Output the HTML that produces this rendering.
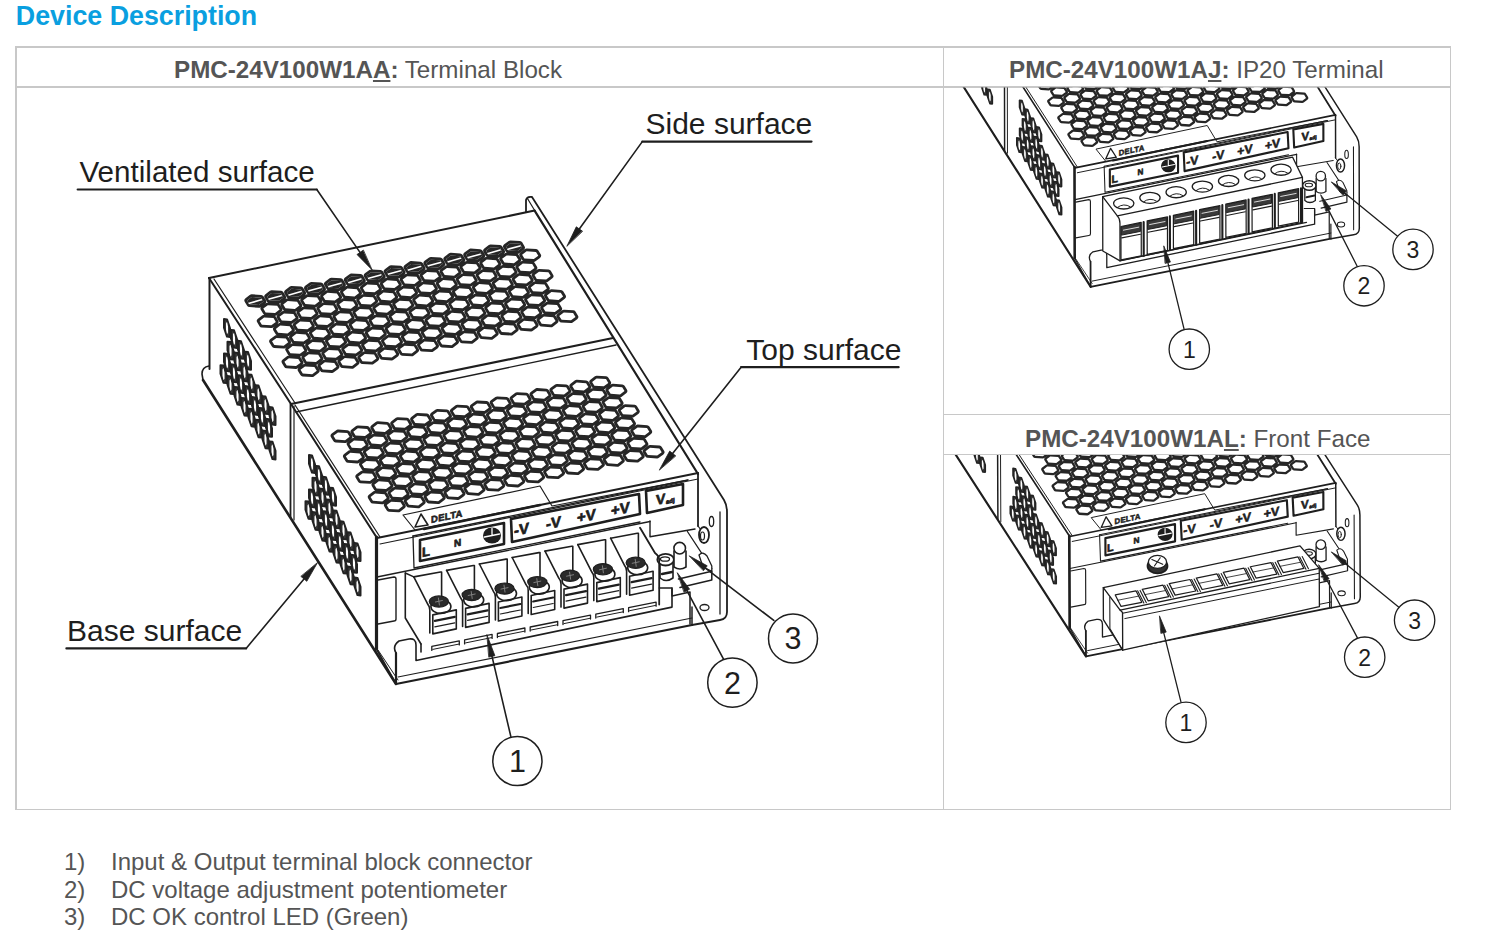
<!DOCTYPE html>
<html><head><meta charset="utf-8">
<style>
html,body{margin:0;padding:0;background:#fff;}
body{width:1499px;height:936px;position:relative;overflow:hidden;font-family:"Liberation Sans",sans-serif;}
.t{position:absolute;white-space:nowrap;line-height:1;}
.title{left:15.8px;top:3.2px;font-size:26.8px;font-weight:bold;color:#0a9fe0;}
.hd{font-size:24.2px;color:#555;}
.hd b{font-weight:bold;}
.hd u{text-decoration:underline;text-decoration-thickness:2.4px;text-underline-offset:2.4px;}
.ln{position:absolute;background:#c8c8c8;}
.li{font-size:24px;color:#555;}
svg{position:absolute;left:0;top:0;}
</style></head><body>
<div class="t title">Device Description</div>
<div class="ln" style="left:15px;top:46px;width:1436px;height:1.5px"></div>
<div class="ln" style="left:15px;top:808.5px;width:1436px;height:1.5px"></div>
<div class="ln" style="left:15px;top:46px;width:1.5px;height:764px"></div>
<div class="ln" style="left:942.5px;top:46px;width:1.5px;height:764px"></div>
<div class="ln" style="left:1449.5px;top:46px;width:1.5px;height:764px"></div>
<div class="ln" style="left:15px;top:86px;width:1436px;height:1.5px"></div>
<div class="ln" style="left:943px;top:413.5px;width:508px;height:1.5px"></div>
<div class="ln" style="left:943px;top:453.5px;width:508px;height:1.5px"></div>
<div class="t hd" style="left:174px;top:58px"><b>PMC-24V100W1A<u>A</u>:</b> Terminal Block</div>
<div class="t hd" style="left:1009px;top:58px"><b>PMC-24V100W1A<u>J</u>:</b> IP20 Terminal</div>
<div class="t hd" style="left:1025px;top:427px"><b>PMC-24V100W1A<u>L</u>:</b> Front Face</div>
<div class="t li" style="left:64px;top:850px">1)</div>
<div class="t li" style="left:111px;top:850px">Input &amp; Output terminal block connector</div>
<div class="t li" style="left:64px;top:878px">2)</div>
<div class="t li" style="left:111px;top:878px">DC voltage adjustment potentiometer</div>
<div class="t li" style="left:64px;top:904.5px">3)</div>
<div class="t li" style="left:111px;top:904.5px">DC OK control LED (Green)</div>
<svg width="1499" height="936" viewBox="0 0 1499 936" stroke="#1e1e1e" stroke-linejoin="round" stroke-linecap="round">
<defs><g id="common"><path d="M263.4,301.5 L258.9,304.9 L249.5,304.3 L247.2,300.5 L251.7,297.1 L261.1,297.7ZM283.3,297.4 L278.8,300.8 L269.4,300.2 L267.1,296.4 L271.6,293 L281,293.6ZM303.2,293.2 L298.7,296.6 L289.3,296 L287,292.2 L291.5,288.8 L300.9,289.4ZM323.1,289.1 L318.6,292.4 L309.2,291.9 L306.9,288.1 L311.4,284.7 L320.8,285.2ZM343,284.9 L338.5,288.3 L329.1,287.7 L326.8,283.9 L331.3,280.5 L340.7,281.1ZM362.9,280.8 L358.4,284.1 L349,283.6 L346.7,279.8 L351.2,276.4 L360.6,276.9ZM382.8,276.6 L378.3,280 L368.9,279.4 L366.6,275.6 L371.1,272.2 L380.5,272.8ZM402.7,272.4 L398.2,275.8 L388.8,275.2 L386.5,271.4 L391,268.1 L400.4,268.6ZM422.6,268.3 L418.1,271.7 L408.7,271.1 L406.4,267.3 L410.9,263.9 L420.3,264.5ZM442.5,264.1 L438,267.5 L428.6,266.9 L426.3,263.1 L430.8,259.8 L440.2,260.3ZM462.4,260 L457.9,263.4 L448.5,262.8 L446.2,259 L450.7,255.6 L460.1,256.2ZM482.3,255.8 L477.8,259.2 L468.4,258.6 L466.1,254.8 L470.6,251.4 L480,252ZM502.2,251.7 L497.7,255.1 L488.3,254.5 L486,250.7 L490.5,247.3 L499.9,247.9ZM522.1,247.6 L517.6,251 L508.2,250.4 L505.9,246.6 L510.4,243.2 L519.8,243.8ZM279.6,309.6 L275.1,313 L265.6,312.4 L263.3,308.6 L267.8,305.2 L277.2,305.8ZM299.4,305.5 L294.9,308.9 L285.5,308.3 L283.2,304.5 L287.7,301.1 L297.1,301.7ZM319.4,301.3 L314.9,304.7 L305.4,304.1 L303.1,300.3 L307.6,296.9 L317.1,297.5ZM339.2,297.2 L334.8,300.6 L325.3,300 L323,296.2 L327.5,292.8 L336.9,293.4ZM359.1,293 L354.6,296.4 L345.2,295.8 L342.9,292 L347.4,288.6 L356.8,289.2ZM379.1,288.9 L374.6,292.3 L365.1,291.7 L362.8,287.9 L367.3,284.5 L376.8,285.1ZM398.9,284.7 L394.4,288.1 L385,287.5 L382.7,283.7 L387.2,280.3 L396.6,280.9ZM418.9,280.6 L414.4,284 L404.9,283.4 L402.6,279.6 L407.1,276.2 L416.6,276.8ZM438.8,276.4 L434.2,279.8 L424.8,279.2 L422.5,275.4 L427,272 L436.4,272.6ZM458.6,272.3 L454.1,275.7 L444.7,275.1 L442.4,271.3 L446.9,267.9 L456.3,268.5ZM478.6,268.1 L474.1,271.5 L464.6,270.9 L462.3,267.1 L466.8,263.7 L476.2,264.3ZM498.4,264 L493.9,267.4 L484.5,266.8 L482.2,263 L486.7,259.6 L496.1,260.2ZM518.4,259.8 L513.9,263.2 L504.4,262.6 L502.1,258.8 L506.6,255.4 L516,256ZM538.3,255.7 L533.8,259.1 L524.4,258.5 L522.1,254.7 L526.6,251.3 L536,251.9ZM275.8,321.9 L271.3,325.3 L261.9,324.7 L259.6,320.9 L264.1,317.5 L273.5,318.1ZM295.7,317.8 L291.2,321.1 L281.8,320.6 L279.5,316.8 L284,313.4 L293.4,313.9ZM315.6,313.6 L311.1,317 L301.7,316.4 L299.4,312.6 L303.9,309.2 L313.3,309.8ZM335.5,309.4 L331,312.8 L321.6,312.2 L319.3,308.4 L323.8,305.1 L333.2,305.6ZM355.4,305.3 L350.9,308.7 L341.5,308.1 L339.2,304.3 L343.7,300.9 L353.1,301.5ZM375.3,301.1 L370.8,304.5 L361.4,303.9 L359.1,300.1 L363.6,296.8 L373,297.3ZM395.2,297 L390.7,300.4 L381.3,299.8 L379,296 L383.5,292.6 L392.9,293.2ZM415.1,292.8 L410.6,296.2 L401.2,295.6 L398.9,291.8 L403.4,288.4 L412.8,289ZM435,288.7 L430.5,292.1 L421.1,291.5 L418.8,287.7 L423.3,284.3 L432.7,284.9ZM454.9,284.5 L450.4,287.9 L441,287.3 L438.7,283.5 L443.2,280.1 L452.6,280.7ZM474.8,280.4 L470.3,283.8 L460.9,283.2 L458.6,279.4 L463.1,276 L472.5,276.6ZM494.7,276.2 L490.2,279.6 L480.8,279.1 L478.5,275.2 L483,271.9 L492.4,272.4ZM514.6,272.1 L510.1,275.5 L500.7,274.9 L498.4,271.1 L502.9,267.7 L512.3,268.3ZM534.5,267.9 L530,271.3 L520.6,270.8 L518.3,266.9 L522.8,263.6 L532.2,264.1ZM292,330 L287.5,333.4 L278.1,332.8 L275.8,329 L280.2,325.6 L289.7,326.2ZM311.9,325.9 L307.4,329.3 L297.9,328.7 L295.6,324.9 L300.1,321.5 L309.6,322.1ZM331.8,321.7 L327.3,325.1 L317.9,324.5 L315.6,320.7 L320.1,317.3 L329.5,317.9ZM351.7,317.6 L347.2,321 L337.8,320.4 L335.4,316.6 L339.9,313.2 L349.4,313.8ZM371.6,313.4 L367.1,316.8 L357.6,316.2 L355.3,312.4 L359.8,309 L369.2,309.6ZM391.5,309.3 L387,312.7 L377.6,312.1 L375.2,308.3 L379.8,304.9 L389.2,305.5ZM411.4,305.1 L406.9,308.5 L397.4,307.9 L395.1,304.1 L399.6,300.7 L409.1,301.3ZM431.3,301 L426.8,304.4 L417.4,303.8 L415.1,300 L419.6,296.6 L429,297.2ZM451.2,296.8 L446.7,300.2 L437.2,299.6 L434.9,295.8 L439.4,292.4 L448.9,293ZM471.1,292.7 L466.6,296.1 L457.1,295.5 L454.8,291.7 L459.3,288.3 L468.8,288.9ZM491,288.5 L486.5,291.9 L477.1,291.3 L474.8,287.5 L479.2,284.1 L488.7,284.7ZM510.9,284.4 L506.4,287.8 L496.9,287.2 L494.6,283.4 L499.1,280 L508.6,280.6ZM530.8,280.2 L526.3,283.6 L516.9,283 L514.6,279.2 L519.1,275.8 L528.5,276.4ZM550.7,276.1 L546.2,279.5 L536.8,278.9 L534.5,275.1 L539,271.7 L548.4,272.3ZM288.2,342.3 L283.7,345.7 L274.3,345.1 L272,341.3 L276.5,337.9 L285.9,338.5ZM308.1,338.2 L303.6,341.6 L294.2,341 L291.9,337.2 L296.4,333.8 L305.8,334.4ZM328,334 L323.5,337.4 L314.1,336.8 L311.8,333 L316.3,329.6 L325.7,330.2ZM347.9,329.9 L343.4,333.2 L334,332.7 L331.7,328.9 L336.2,325.5 L345.6,326.1ZM367.8,325.7 L363.3,329.1 L353.9,328.5 L351.6,324.7 L356.1,321.3 L365.5,321.9ZM387.7,321.6 L383.2,324.9 L373.8,324.4 L371.5,320.6 L376,317.2 L385.4,317.8ZM407.6,317.4 L403.1,320.8 L393.7,320.2 L391.4,316.4 L395.9,313 L405.3,313.6ZM427.5,313.2 L423,316.6 L413.6,316.1 L411.3,312.2 L415.8,308.9 L425.2,309.4ZM447.4,309.1 L442.9,312.5 L433.5,311.9 L431.2,308.1 L435.7,304.7 L445.1,305.3ZM467.3,304.9 L462.8,308.3 L453.4,307.8 L451.1,303.9 L455.6,300.6 L465,301.1ZM487.2,300.8 L482.7,304.2 L473.3,303.6 L471,299.8 L475.5,296.4 L484.9,297ZM507.1,296.6 L502.6,300 L493.2,299.4 L490.9,295.6 L495.4,292.2 L504.8,292.8ZM527,292.5 L522.5,295.9 L513.1,295.3 L510.8,291.5 L515.3,288.1 L524.7,288.7ZM546.9,288.4 L542.4,291.8 L533,291.2 L530.7,287.4 L535.2,284 L544.6,284.6ZM304.4,350.4 L299.9,353.8 L290.4,353.2 L288.1,349.4 L292.6,346 L302.1,346.6ZM324.2,346.3 L319.8,349.7 L310.3,349.1 L308,345.3 L312.5,341.9 L321.9,342.5ZM344.2,342.1 L339.7,345.5 L330.2,344.9 L327.9,341.1 L332.4,337.7 L341.9,338.3ZM364.1,338 L359.6,341.4 L350.1,340.8 L347.8,337 L352.3,333.6 L361.8,334.2ZM383.9,333.8 L379.4,337.2 L370,336.6 L367.7,332.8 L372.2,329.4 L381.6,330ZM403.9,329.7 L399.4,333.1 L389.9,332.5 L387.6,328.7 L392.1,325.3 L401.6,325.9ZM423.8,325.5 L419.2,328.9 L409.8,328.3 L407.5,324.5 L412,321.1 L421.4,321.7ZM443.7,321.4 L439.2,324.8 L429.8,324.2 L427.4,320.4 L431.9,317 L441.4,317.6ZM463.6,317.2 L459.1,320.6 L449.6,320 L447.3,316.2 L451.8,312.8 L461.2,313.4ZM483.4,313.1 L478.9,316.5 L469.5,315.9 L467.2,312.1 L471.7,308.7 L481.1,309.3ZM503.4,308.9 L498.9,312.3 L489.4,311.7 L487.1,307.9 L491.6,304.5 L501.1,305.1ZM523.2,304.8 L518.8,308.2 L509.3,307.6 L507,303.8 L511.5,300.4 L520.9,301ZM543.2,300.6 L538.7,304 L529.3,303.4 L527,299.6 L531.5,296.2 L540.9,296.8ZM563.1,296.5 L558.6,299.9 L549.2,299.3 L546.9,295.5 L551.4,292.1 L560.8,292.7ZM300.6,362.7 L296.1,366.1 L286.7,365.5 L284.4,361.7 L288.9,358.3 L298.3,358.9ZM320.5,358.6 L316,361.9 L306.6,361.4 L304.3,357.6 L308.8,354.2 L318.2,354.8ZM340.4,354.4 L335.9,357.8 L326.5,357.2 L324.2,353.4 L328.7,350 L338.1,350.6ZM360.3,350.2 L355.8,353.6 L346.4,353.1 L344.1,349.2 L348.6,345.9 L358,346.4ZM380.2,346.1 L375.7,349.5 L366.3,348.9 L364,345.1 L368.5,341.7 L377.9,342.3ZM400.1,341.9 L395.6,345.3 L386.2,344.8 L383.9,340.9 L388.4,337.6 L397.8,338.1ZM420,337.8 L415.5,341.2 L406.1,340.6 L403.8,336.8 L408.3,333.4 L417.7,334ZM439.9,333.6 L435.4,337 L426,336.4 L423.7,332.6 L428.2,329.2 L437.6,329.8ZM459.8,329.5 L455.3,332.9 L445.9,332.3 L443.6,328.5 L448.1,325.1 L457.5,325.7ZM479.7,325.3 L475.2,328.7 L465.8,328.1 L463.5,324.3 L468,320.9 L477.4,321.5ZM499.6,321.2 L495.1,324.6 L485.7,324 L483.4,320.2 L487.9,316.8 L497.3,317.4ZM519.5,317.1 L515,320.4 L505.6,319.9 L503.3,316.1 L507.8,312.7 L517.2,313.2ZM539.4,312.9 L534.9,316.3 L525.5,315.7 L523.2,311.9 L527.7,308.5 L537.1,309.1ZM559.3,308.8 L554.8,312.1 L545.4,311.6 L543.1,307.8 L547.6,304.4 L557,304.9ZM316.8,370.8 L312.2,374.2 L302.8,373.6 L300.5,369.8 L305,366.4 L314.4,367ZM336.6,366.7 L332.1,370.1 L322.7,369.5 L320.4,365.7 L324.9,362.3 L334.3,362.9ZM356.6,362.5 L352.1,365.9 L342.6,365.3 L340.3,361.5 L344.8,358.1 L354.2,358.7ZM376.4,358.4 L371.9,361.8 L362.5,361.2 L360.2,357.4 L364.7,354 L374.1,354.6ZM396.3,354.2 L391.8,357.6 L382.4,357 L380.1,353.2 L384.6,349.8 L394,350.4ZM416.2,350.1 L411.8,353.5 L402.3,352.9 L400,349.1 L404.5,345.7 L413.9,346.3ZM436.1,345.9 L431.6,349.3 L422.2,348.7 L419.9,344.9 L424.4,341.5 L433.8,342.1ZM456.1,341.8 L451.6,345.2 L442.1,344.6 L439.8,340.8 L444.3,337.4 L453.8,338ZM475.9,337.6 L471.4,341 L462,340.4 L459.7,336.6 L464.2,333.2 L473.6,333.8ZM495.8,333.5 L491.3,336.9 L481.9,336.3 L479.6,332.5 L484.1,329.1 L493.5,329.7ZM515.8,329.3 L511.2,332.7 L501.8,332.1 L499.5,328.3 L504,324.9 L513.4,325.5ZM535.7,325.2 L531.2,328.6 L521.8,328 L519.5,324.2 L524,320.8 L533.4,321.4ZM555.6,321 L551.1,324.4 L541.7,323.8 L539.4,320 L543.9,316.6 L553.2,317.2ZM575.5,316.9 L571,320.3 L561.6,319.7 L559.2,315.9 L563.8,312.5 L573.1,313.1Z" stroke-width="5.6" fill="none" stroke="#262626"/><path d="M263.4,301.5 L258.9,304.9 L249.5,304.3 L247.2,300.5 L251.7,297.1 L261.1,297.7ZM283.3,297.4 L278.8,300.8 L269.4,300.2 L267.1,296.4 L271.6,293 L281,293.6ZM303.2,293.2 L298.7,296.6 L289.3,296 L287,292.2 L291.5,288.8 L300.9,289.4ZM323.1,289.1 L318.6,292.4 L309.2,291.9 L306.9,288.1 L311.4,284.7 L320.8,285.2ZM343,284.9 L338.5,288.3 L329.1,287.7 L326.8,283.9 L331.3,280.5 L340.7,281.1ZM362.9,280.8 L358.4,284.1 L349,283.6 L346.7,279.8 L351.2,276.4 L360.6,276.9ZM382.8,276.6 L378.3,280 L368.9,279.4 L366.6,275.6 L371.1,272.2 L380.5,272.8ZM402.7,272.4 L398.2,275.8 L388.8,275.2 L386.5,271.4 L391,268.1 L400.4,268.6ZM422.6,268.3 L418.1,271.7 L408.7,271.1 L406.4,267.3 L410.9,263.9 L420.3,264.5ZM442.5,264.1 L438,267.5 L428.6,266.9 L426.3,263.1 L430.8,259.8 L440.2,260.3ZM462.4,260 L457.9,263.4 L448.5,262.8 L446.2,259 L450.7,255.6 L460.1,256.2ZM482.3,255.8 L477.8,259.2 L468.4,258.6 L466.1,254.8 L470.6,251.4 L480,252ZM502.2,251.7 L497.7,255.1 L488.3,254.5 L486,250.7 L490.5,247.3 L499.9,247.9ZM522.1,247.6 L517.6,251 L508.2,250.4 L505.9,246.6 L510.4,243.2 L519.8,243.8ZM279.6,309.6 L275.1,313 L265.6,312.4 L263.3,308.6 L267.8,305.2 L277.2,305.8ZM299.4,305.5 L294.9,308.9 L285.5,308.3 L283.2,304.5 L287.7,301.1 L297.1,301.7ZM319.4,301.3 L314.9,304.7 L305.4,304.1 L303.1,300.3 L307.6,296.9 L317.1,297.5ZM339.2,297.2 L334.8,300.6 L325.3,300 L323,296.2 L327.5,292.8 L336.9,293.4ZM359.1,293 L354.6,296.4 L345.2,295.8 L342.9,292 L347.4,288.6 L356.8,289.2ZM379.1,288.9 L374.6,292.3 L365.1,291.7 L362.8,287.9 L367.3,284.5 L376.8,285.1ZM398.9,284.7 L394.4,288.1 L385,287.5 L382.7,283.7 L387.2,280.3 L396.6,280.9ZM418.9,280.6 L414.4,284 L404.9,283.4 L402.6,279.6 L407.1,276.2 L416.6,276.8ZM438.8,276.4 L434.2,279.8 L424.8,279.2 L422.5,275.4 L427,272 L436.4,272.6ZM458.6,272.3 L454.1,275.7 L444.7,275.1 L442.4,271.3 L446.9,267.9 L456.3,268.5ZM478.6,268.1 L474.1,271.5 L464.6,270.9 L462.3,267.1 L466.8,263.7 L476.2,264.3ZM498.4,264 L493.9,267.4 L484.5,266.8 L482.2,263 L486.7,259.6 L496.1,260.2ZM518.4,259.8 L513.9,263.2 L504.4,262.6 L502.1,258.8 L506.6,255.4 L516,256ZM538.3,255.7 L533.8,259.1 L524.4,258.5 L522.1,254.7 L526.6,251.3 L536,251.9ZM275.8,321.9 L271.3,325.3 L261.9,324.7 L259.6,320.9 L264.1,317.5 L273.5,318.1ZM295.7,317.8 L291.2,321.1 L281.8,320.6 L279.5,316.8 L284,313.4 L293.4,313.9ZM315.6,313.6 L311.1,317 L301.7,316.4 L299.4,312.6 L303.9,309.2 L313.3,309.8ZM335.5,309.4 L331,312.8 L321.6,312.2 L319.3,308.4 L323.8,305.1 L333.2,305.6ZM355.4,305.3 L350.9,308.7 L341.5,308.1 L339.2,304.3 L343.7,300.9 L353.1,301.5ZM375.3,301.1 L370.8,304.5 L361.4,303.9 L359.1,300.1 L363.6,296.8 L373,297.3ZM395.2,297 L390.7,300.4 L381.3,299.8 L379,296 L383.5,292.6 L392.9,293.2ZM415.1,292.8 L410.6,296.2 L401.2,295.6 L398.9,291.8 L403.4,288.4 L412.8,289ZM435,288.7 L430.5,292.1 L421.1,291.5 L418.8,287.7 L423.3,284.3 L432.7,284.9ZM454.9,284.5 L450.4,287.9 L441,287.3 L438.7,283.5 L443.2,280.1 L452.6,280.7ZM474.8,280.4 L470.3,283.8 L460.9,283.2 L458.6,279.4 L463.1,276 L472.5,276.6ZM494.7,276.2 L490.2,279.6 L480.8,279.1 L478.5,275.2 L483,271.9 L492.4,272.4ZM514.6,272.1 L510.1,275.5 L500.7,274.9 L498.4,271.1 L502.9,267.7 L512.3,268.3ZM534.5,267.9 L530,271.3 L520.6,270.8 L518.3,266.9 L522.8,263.6 L532.2,264.1ZM292,330 L287.5,333.4 L278.1,332.8 L275.8,329 L280.2,325.6 L289.7,326.2ZM311.9,325.9 L307.4,329.3 L297.9,328.7 L295.6,324.9 L300.1,321.5 L309.6,322.1ZM331.8,321.7 L327.3,325.1 L317.9,324.5 L315.6,320.7 L320.1,317.3 L329.5,317.9ZM351.7,317.6 L347.2,321 L337.8,320.4 L335.4,316.6 L339.9,313.2 L349.4,313.8ZM371.6,313.4 L367.1,316.8 L357.6,316.2 L355.3,312.4 L359.8,309 L369.2,309.6ZM391.5,309.3 L387,312.7 L377.6,312.1 L375.2,308.3 L379.8,304.9 L389.2,305.5ZM411.4,305.1 L406.9,308.5 L397.4,307.9 L395.1,304.1 L399.6,300.7 L409.1,301.3ZM431.3,301 L426.8,304.4 L417.4,303.8 L415.1,300 L419.6,296.6 L429,297.2ZM451.2,296.8 L446.7,300.2 L437.2,299.6 L434.9,295.8 L439.4,292.4 L448.9,293ZM471.1,292.7 L466.6,296.1 L457.1,295.5 L454.8,291.7 L459.3,288.3 L468.8,288.9ZM491,288.5 L486.5,291.9 L477.1,291.3 L474.8,287.5 L479.2,284.1 L488.7,284.7ZM510.9,284.4 L506.4,287.8 L496.9,287.2 L494.6,283.4 L499.1,280 L508.6,280.6ZM530.8,280.2 L526.3,283.6 L516.9,283 L514.6,279.2 L519.1,275.8 L528.5,276.4ZM550.7,276.1 L546.2,279.5 L536.8,278.9 L534.5,275.1 L539,271.7 L548.4,272.3ZM288.2,342.3 L283.7,345.7 L274.3,345.1 L272,341.3 L276.5,337.9 L285.9,338.5ZM308.1,338.2 L303.6,341.6 L294.2,341 L291.9,337.2 L296.4,333.8 L305.8,334.4ZM328,334 L323.5,337.4 L314.1,336.8 L311.8,333 L316.3,329.6 L325.7,330.2ZM347.9,329.9 L343.4,333.2 L334,332.7 L331.7,328.9 L336.2,325.5 L345.6,326.1ZM367.8,325.7 L363.3,329.1 L353.9,328.5 L351.6,324.7 L356.1,321.3 L365.5,321.9ZM387.7,321.6 L383.2,324.9 L373.8,324.4 L371.5,320.6 L376,317.2 L385.4,317.8ZM407.6,317.4 L403.1,320.8 L393.7,320.2 L391.4,316.4 L395.9,313 L405.3,313.6ZM427.5,313.2 L423,316.6 L413.6,316.1 L411.3,312.2 L415.8,308.9 L425.2,309.4ZM447.4,309.1 L442.9,312.5 L433.5,311.9 L431.2,308.1 L435.7,304.7 L445.1,305.3ZM467.3,304.9 L462.8,308.3 L453.4,307.8 L451.1,303.9 L455.6,300.6 L465,301.1ZM487.2,300.8 L482.7,304.2 L473.3,303.6 L471,299.8 L475.5,296.4 L484.9,297ZM507.1,296.6 L502.6,300 L493.2,299.4 L490.9,295.6 L495.4,292.2 L504.8,292.8ZM527,292.5 L522.5,295.9 L513.1,295.3 L510.8,291.5 L515.3,288.1 L524.7,288.7ZM546.9,288.4 L542.4,291.8 L533,291.2 L530.7,287.4 L535.2,284 L544.6,284.6ZM304.4,350.4 L299.9,353.8 L290.4,353.2 L288.1,349.4 L292.6,346 L302.1,346.6ZM324.2,346.3 L319.8,349.7 L310.3,349.1 L308,345.3 L312.5,341.9 L321.9,342.5ZM344.2,342.1 L339.7,345.5 L330.2,344.9 L327.9,341.1 L332.4,337.7 L341.9,338.3ZM364.1,338 L359.6,341.4 L350.1,340.8 L347.8,337 L352.3,333.6 L361.8,334.2ZM383.9,333.8 L379.4,337.2 L370,336.6 L367.7,332.8 L372.2,329.4 L381.6,330ZM403.9,329.7 L399.4,333.1 L389.9,332.5 L387.6,328.7 L392.1,325.3 L401.6,325.9ZM423.8,325.5 L419.2,328.9 L409.8,328.3 L407.5,324.5 L412,321.1 L421.4,321.7ZM443.7,321.4 L439.2,324.8 L429.8,324.2 L427.4,320.4 L431.9,317 L441.4,317.6ZM463.6,317.2 L459.1,320.6 L449.6,320 L447.3,316.2 L451.8,312.8 L461.2,313.4ZM483.4,313.1 L478.9,316.5 L469.5,315.9 L467.2,312.1 L471.7,308.7 L481.1,309.3ZM503.4,308.9 L498.9,312.3 L489.4,311.7 L487.1,307.9 L491.6,304.5 L501.1,305.1ZM523.2,304.8 L518.8,308.2 L509.3,307.6 L507,303.8 L511.5,300.4 L520.9,301ZM543.2,300.6 L538.7,304 L529.3,303.4 L527,299.6 L531.5,296.2 L540.9,296.8ZM563.1,296.5 L558.6,299.9 L549.2,299.3 L546.9,295.5 L551.4,292.1 L560.8,292.7ZM300.6,362.7 L296.1,366.1 L286.7,365.5 L284.4,361.7 L288.9,358.3 L298.3,358.9ZM320.5,358.6 L316,361.9 L306.6,361.4 L304.3,357.6 L308.8,354.2 L318.2,354.8ZM340.4,354.4 L335.9,357.8 L326.5,357.2 L324.2,353.4 L328.7,350 L338.1,350.6ZM360.3,350.2 L355.8,353.6 L346.4,353.1 L344.1,349.2 L348.6,345.9 L358,346.4ZM380.2,346.1 L375.7,349.5 L366.3,348.9 L364,345.1 L368.5,341.7 L377.9,342.3ZM400.1,341.9 L395.6,345.3 L386.2,344.8 L383.9,340.9 L388.4,337.6 L397.8,338.1ZM420,337.8 L415.5,341.2 L406.1,340.6 L403.8,336.8 L408.3,333.4 L417.7,334ZM439.9,333.6 L435.4,337 L426,336.4 L423.7,332.6 L428.2,329.2 L437.6,329.8ZM459.8,329.5 L455.3,332.9 L445.9,332.3 L443.6,328.5 L448.1,325.1 L457.5,325.7ZM479.7,325.3 L475.2,328.7 L465.8,328.1 L463.5,324.3 L468,320.9 L477.4,321.5ZM499.6,321.2 L495.1,324.6 L485.7,324 L483.4,320.2 L487.9,316.8 L497.3,317.4ZM519.5,317.1 L515,320.4 L505.6,319.9 L503.3,316.1 L507.8,312.7 L517.2,313.2ZM539.4,312.9 L534.9,316.3 L525.5,315.7 L523.2,311.9 L527.7,308.5 L537.1,309.1ZM559.3,308.8 L554.8,312.1 L545.4,311.6 L543.1,307.8 L547.6,304.4 L557,304.9ZM316.8,370.8 L312.2,374.2 L302.8,373.6 L300.5,369.8 L305,366.4 L314.4,367ZM336.6,366.7 L332.1,370.1 L322.7,369.5 L320.4,365.7 L324.9,362.3 L334.3,362.9ZM356.6,362.5 L352.1,365.9 L342.6,365.3 L340.3,361.5 L344.8,358.1 L354.2,358.7ZM376.4,358.4 L371.9,361.8 L362.5,361.2 L360.2,357.4 L364.7,354 L374.1,354.6ZM396.3,354.2 L391.8,357.6 L382.4,357 L380.1,353.2 L384.6,349.8 L394,350.4ZM416.2,350.1 L411.8,353.5 L402.3,352.9 L400,349.1 L404.5,345.7 L413.9,346.3ZM436.1,345.9 L431.6,349.3 L422.2,348.7 L419.9,344.9 L424.4,341.5 L433.8,342.1ZM456.1,341.8 L451.6,345.2 L442.1,344.6 L439.8,340.8 L444.3,337.4 L453.8,338ZM475.9,337.6 L471.4,341 L462,340.4 L459.7,336.6 L464.2,333.2 L473.6,333.8ZM495.8,333.5 L491.3,336.9 L481.9,336.3 L479.6,332.5 L484.1,329.1 L493.5,329.7ZM515.8,329.3 L511.2,332.7 L501.8,332.1 L499.5,328.3 L504,324.9 L513.4,325.5ZM535.7,325.2 L531.2,328.6 L521.8,328 L519.5,324.2 L524,320.8 L533.4,321.4ZM555.6,321 L551.1,324.4 L541.7,323.8 L539.4,320 L543.9,316.6 L553.2,317.2ZM575.5,316.9 L571,320.3 L561.6,319.7 L559.2,315.9 L563.8,312.5 L573.1,313.1Z" fill="#fff" stroke="none"/><path d="M263.4,301.5 L258.9,304.9 L249.5,304.3 L247.2,300.5 L251.7,297.1 L261.1,297.7ZM283.3,297.4 L278.8,300.8 L269.4,300.2 L267.1,296.4 L271.6,293 L281,293.6ZM303.2,293.2 L298.7,296.6 L289.3,296 L287,292.2 L291.5,288.8 L300.9,289.4ZM323.1,289.1 L318.6,292.4 L309.2,291.9 L306.9,288.1 L311.4,284.7 L320.8,285.2ZM343,284.9 L338.5,288.3 L329.1,287.7 L326.8,283.9 L331.3,280.5 L340.7,281.1ZM362.9,280.8 L358.4,284.1 L349,283.6 L346.7,279.8 L351.2,276.4 L360.6,276.9ZM382.8,276.6 L378.3,280 L368.9,279.4 L366.6,275.6 L371.1,272.2 L380.5,272.8ZM402.7,272.4 L398.2,275.8 L388.8,275.2 L386.5,271.4 L391,268.1 L400.4,268.6ZM422.6,268.3 L418.1,271.7 L408.7,271.1 L406.4,267.3 L410.9,263.9 L420.3,264.5ZM442.5,264.1 L438,267.5 L428.6,266.9 L426.3,263.1 L430.8,259.8 L440.2,260.3ZM462.4,260 L457.9,263.4 L448.5,262.8 L446.2,259 L450.7,255.6 L460.1,256.2ZM482.3,255.8 L477.8,259.2 L468.4,258.6 L466.1,254.8 L470.6,251.4 L480,252ZM502.2,251.7 L497.7,255.1 L488.3,254.5 L486,250.7 L490.5,247.3 L499.9,247.9ZM522.1,247.6 L517.6,251 L508.2,250.4 L505.9,246.6 L510.4,243.2 L519.8,243.8Z" fill="#262626" stroke="none"/><path d="M249.3,303.2 L261.3,299.8M269.2,299.1 L281.2,295.7M289.1,294.9 L301.1,291.5M309,290.8 L321,287.4M328.9,286.6 L340.9,283.2M348.8,282.4 L360.8,279.1M368.7,278.3 L380.7,274.9M388.6,274.1 L400.6,270.8M408.5,270 L420.5,266.6M428.4,265.8 L440.4,262.4M448.3,261.7 L460.3,258.3M468.2,257.6 L480.2,254.2M488.1,253.4 L500.1,250M508,249.2 L520,245.9" stroke="#fff" stroke-width="1.6" fill="none"/>
<path d="M349.6,436.8 L345.1,440.2 L335.7,439.6 L333.4,435.8 L337.9,432.4 L347.3,433ZM369.5,432.7 L365,436.1 L355.6,435.5 L353.3,431.7 L357.8,428.3 L367.2,428.9ZM389.4,428.5 L384.9,431.9 L375.5,431.3 L373.2,427.5 L377.7,424.1 L387.1,424.7ZM409.3,424.4 L404.8,427.8 L395.4,427.2 L393.1,423.4 L397.6,420 L407,420.6ZM429.2,420.2 L424.7,423.6 L415.3,423 L413,419.2 L417.5,415.8 L426.9,416.4ZM449.1,416.1 L444.6,419.4 L435.2,418.9 L432.9,415.1 L437.4,411.7 L446.8,412.2ZM469,411.9 L464.5,415.3 L455.1,414.7 L452.8,410.9 L457.3,407.5 L466.7,408.1ZM488.9,407.8 L484.4,411.1 L475,410.6 L472.7,406.8 L477.2,403.4 L486.6,403.9ZM508.8,403.6 L504.3,407 L494.9,406.4 L492.6,402.6 L497.1,399.2 L506.5,399.8ZM528.7,399.4 L524.2,402.8 L514.8,402.2 L512.5,398.4 L517,395.1 L526.4,395.6ZM548.6,395.3 L544.1,398.7 L534.7,398.1 L532.4,394.3 L536.9,390.9 L546.3,391.5ZM568.5,391.1 L564,394.5 L554.6,393.9 L552.3,390.1 L556.8,386.8 L566.2,387.3ZM588.4,387 L583.9,390.4 L574.5,389.8 L572.2,386 L576.7,382.6 L586.1,383.2ZM608.3,382.9 L603.8,386.2 L594.4,385.7 L592.1,381.9 L596.6,378.5 L606,379.1ZM365.8,444.9 L361.2,448.3 L351.8,447.7 L349.5,443.9 L354,440.5 L363.4,441.1ZM385.6,440.8 L381.1,444.2 L371.7,443.6 L369.4,439.8 L373.9,436.4 L383.3,437ZM405.6,436.6 L401.1,440 L391.6,439.4 L389.3,435.6 L393.8,432.2 L403.2,432.8ZM425.4,432.5 L420.9,435.9 L411.5,435.3 L409.2,431.5 L413.7,428.1 L423.1,428.7ZM445.4,428.3 L440.9,431.7 L431.4,431.1 L429.1,427.3 L433.6,423.9 L443.1,424.5ZM465.2,424.2 L460.8,427.6 L451.3,427 L449,423.2 L453.5,419.8 L462.9,420.4ZM485.1,420 L480.6,423.4 L471.2,422.8 L468.9,419 L473.4,415.6 L482.8,416.2ZM505,415.9 L500.5,419.3 L491.1,418.7 L488.8,414.9 L493.3,411.5 L502.7,412.1ZM525,411.7 L520.5,415.1 L511.1,414.5 L508.8,410.7 L513.2,407.3 L522.6,407.9ZM544.9,407.6 L540.4,411 L531,410.4 L528.7,406.6 L533.2,403.2 L542.6,403.8ZM564.8,403.4 L560.3,406.8 L550.9,406.2 L548.6,402.4 L553.1,399 L562.5,399.6ZM584.7,399.3 L580.2,402.7 L570.8,402.1 L568.5,398.3 L573,394.9 L582.4,395.5ZM604.6,395.1 L600.1,398.5 L590.7,397.9 L588.4,394.1 L592.9,390.7 L602.2,391.3ZM624.5,391 L620,394.4 L610.6,393.8 L608.3,390 L612.8,386.6 L622.2,387.2ZM362,457.2 L357.5,460.6 L348.1,460 L345.8,456.2 L350.3,452.8 L359.7,453.4ZM381.9,453.1 L377.4,456.4 L368,455.9 L365.7,452.1 L370.2,448.7 L379.6,449.2ZM401.8,448.9 L397.3,452.3 L387.9,451.7 L385.6,447.9 L390.1,444.5 L399.5,445.1ZM421.7,444.8 L417.2,448.1 L407.8,447.6 L405.5,443.8 L410,440.4 L419.4,440.9ZM441.6,440.6 L437.1,444 L427.7,443.4 L425.4,439.6 L429.9,436.2 L439.3,436.8ZM461.5,436.4 L457,439.8 L447.6,439.2 L445.3,435.4 L449.8,432.1 L459.2,432.6ZM481.4,432.3 L476.9,435.7 L467.5,435.1 L465.2,431.3 L469.7,427.9 L479.1,428.5ZM501.3,428.1 L496.8,431.5 L487.4,430.9 L485.1,427.1 L489.6,423.8 L499,424.3ZM521.2,424 L516.7,427.4 L507.3,426.8 L505,423 L509.5,419.6 L518.9,420.2ZM541.1,419.8 L536.6,423.2 L527.2,422.6 L524.9,418.8 L529.4,415.4 L538.8,416ZM561,415.7 L556.5,419.1 L547.1,418.5 L544.8,414.7 L549.3,411.3 L558.7,411.9ZM580.9,411.5 L576.4,414.9 L567,414.3 L564.7,410.5 L569.2,407.1 L578.6,407.7ZM600.8,407.4 L596.3,410.8 L586.9,410.2 L584.6,406.4 L589.1,403 L598.5,403.6ZM620.7,403.2 L616.2,406.6 L606.8,406.1 L604.5,402.2 L609,398.9 L618.4,399.4ZM378.2,465.3 L373.7,468.7 L364.2,468.1 L361.9,464.3 L366.4,460.9 L375.9,461.5ZM398.1,461.2 L393.6,464.6 L384.1,464 L381.8,460.2 L386.3,456.8 L395.8,457.4ZM418,457 L413.5,460.4 L404.1,459.8 L401.8,456 L406.2,452.6 L415.7,453.2ZM437.9,452.9 L433.4,456.3 L423.9,455.7 L421.6,451.9 L426.1,448.5 L435.6,449.1ZM457.8,448.7 L453.3,452.1 L443.9,451.5 L441.6,447.7 L446.1,444.3 L455.5,444.9ZM477.7,444.6 L473.2,448 L463.8,447.4 L461.4,443.6 L465.9,440.2 L475.4,440.8ZM497.6,440.4 L493.1,443.8 L483.6,443.2 L481.3,439.4 L485.8,436 L495.2,436.6ZM517.4,436.3 L512.9,439.7 L503.5,439.1 L501.2,435.3 L505.7,431.9 L515.1,432.5ZM537.4,432.1 L532.9,435.5 L523.5,434.9 L521.1,431.1 L525.6,427.7 L535,428.3ZM557.3,428 L552.8,431.4 L543.4,430.8 L541.1,427 L545.6,423.6 L555,424.2ZM577.2,423.8 L572.7,427.2 L563.3,426.6 L561,422.8 L565.5,419.4 L574.9,420ZM597.1,419.7 L592.6,423.1 L583.2,422.5 L580.9,418.7 L585.4,415.3 L594.8,415.9ZM617,415.5 L612.5,418.9 L603.1,418.3 L600.8,414.5 L605.2,411.1 L614.6,411.7ZM636.9,411.4 L632.4,414.8 L623,414.2 L620.7,410.4 L625.2,407 L634.6,407.6ZM374.4,477.6 L369.9,481 L360.5,480.4 L358.2,476.6 L362.7,473.2 L372.1,473.8ZM394.3,473.5 L389.8,476.9 L380.4,476.3 L378.1,472.5 L382.6,469.1 L392,469.7ZM414.2,469.3 L409.7,472.7 L400.3,472.1 L398,468.3 L402.5,464.9 L411.9,465.5ZM434.1,465.2 L429.6,468.6 L420.2,468 L417.9,464.2 L422.4,460.8 L431.8,461.4ZM454,461 L449.5,464.4 L440.1,463.8 L437.8,460 L442.3,456.6 L451.7,457.2ZM473.9,456.9 L469.4,460.2 L460,459.7 L457.7,455.9 L462.2,452.5 L471.6,453.1ZM493.8,452.7 L489.3,456.1 L479.9,455.5 L477.6,451.7 L482.1,448.3 L491.5,448.9ZM513.7,448.6 L509.2,451.9 L499.8,451.4 L497.5,447.6 L502,444.2 L511.4,444.8ZM533.6,444.4 L529.1,447.8 L519.7,447.2 L517.4,443.4 L521.9,440 L531.3,440.6ZM553.5,440.2 L549,443.6 L539.6,443.1 L537.3,439.2 L541.8,435.9 L551.2,436.4ZM573.4,436.1 L568.9,439.5 L559.5,438.9 L557.2,435.1 L561.7,431.7 L571.1,432.3ZM593.3,431.9 L588.8,435.3 L579.4,434.8 L577.1,430.9 L581.6,427.6 L591,428.1ZM613.2,427.8 L608.7,431.2 L599.3,430.6 L597,426.8 L601.5,423.4 L610.9,424ZM633.1,423.7 L628.6,427.1 L619.2,426.5 L616.9,422.7 L621.4,419.3 L630.8,419.9ZM390.6,485.7 L386.1,489.1 L376.6,488.5 L374.3,484.7 L378.8,481.3 L388.2,481.9ZM410.4,481.6 L405.9,485 L396.5,484.4 L394.2,480.6 L398.7,477.2 L408.1,477.8ZM430.4,477.4 L425.9,480.8 L416.4,480.2 L414.1,476.4 L418.6,473 L428.1,473.6ZM450.2,473.3 L445.8,476.7 L436.3,476.1 L434,472.3 L438.5,468.9 L447.9,469.5ZM470.2,469.1 L465.7,472.5 L456.2,471.9 L453.9,468.1 L458.4,464.7 L467.9,465.3ZM490.1,465 L485.6,468.4 L476.1,467.8 L473.8,464 L478.3,460.6 L487.8,461.2ZM509.9,460.8 L505.4,464.2 L496,463.6 L493.7,459.8 L498.2,456.4 L507.6,457ZM529.9,456.7 L525.4,460.1 L516,459.5 L513.6,455.7 L518.1,452.3 L527.5,452.9ZM549.8,452.5 L545.3,455.9 L535.9,455.3 L533.6,451.5 L538.1,448.1 L547.5,448.7ZM569.7,448.4 L565.2,451.8 L555.8,451.2 L553.5,447.4 L558,444 L567.4,444.6ZM589.6,444.2 L585.1,447.6 L575.7,447 L573.4,443.2 L577.9,439.8 L587.2,440.4ZM609.5,440.1 L605,443.5 L595.6,442.9 L593.2,439.1 L597.8,435.7 L607.1,436.3ZM629.4,435.9 L624.9,439.3 L615.5,438.7 L613.1,434.9 L617.6,431.5 L627,432.1ZM649.3,431.8 L644.8,435.2 L635.4,434.6 L633.1,430.8 L637.6,427.4 L647,428ZM386.8,498 L382.3,501.4 L372.9,500.8 L370.6,497 L375.1,493.6 L384.5,494.2ZM406.7,493.9 L402.2,497.2 L392.8,496.7 L390.5,492.9 L395,489.5 L404.4,490.1ZM426.6,489.7 L422.1,493.1 L412.7,492.5 L410.4,488.7 L414.9,485.3 L424.3,485.9ZM446.5,485.6 L442,488.9 L432.6,488.4 L430.3,484.6 L434.8,481.2 L444.2,481.8ZM466.4,481.4 L461.9,484.8 L452.5,484.2 L450.2,480.4 L454.7,477 L464.1,477.6ZM486.3,477.2 L481.8,480.6 L472.4,480.1 L470.1,476.2 L474.6,472.9 L484,473.4ZM506.2,473.1 L501.7,476.5 L492.3,475.9 L490,472.1 L494.5,468.7 L503.9,469.3ZM526.1,468.9 L521.6,472.3 L512.2,471.8 L509.9,467.9 L514.4,464.6 L523.8,465.1ZM546,464.8 L541.5,468.2 L532.1,467.6 L529.8,463.8 L534.3,460.4 L543.7,461ZM565.9,460.6 L561.4,464 L552,463.4 L549.7,459.6 L554.2,456.2 L563.6,456.8ZM585.8,456.5 L581.3,459.9 L571.9,459.3 L569.6,455.5 L574.1,452.1 L583.5,452.7ZM605.7,452.3 L601.2,455.7 L591.8,455.1 L589.5,451.3 L594,447.9 L603.4,448.5ZM625.6,448.2 L621.1,451.6 L611.7,451 L609.4,447.2 L613.9,443.8 L623.3,444.4ZM645.5,444.1 L641,447.4 L631.6,446.9 L629.3,443.1 L633.8,439.7 L643.2,440.2ZM402.9,506.1 L398.4,509.5 L389,508.9 L386.7,505.1 L391.2,501.7 L400.6,502.3ZM422.8,502 L418.3,505.4 L408.9,504.8 L406.6,501 L411.1,497.6 L420.5,498.2ZM442.8,497.8 L438.2,501.2 L428.8,500.6 L426.5,496.8 L431,493.4 L440.4,494ZM462.6,493.7 L458.1,497.1 L448.7,496.5 L446.4,492.7 L450.9,489.3 L460.3,489.9ZM482.6,489.5 L478.1,492.9 L468.6,492.3 L466.3,488.5 L470.8,485.1 L480.2,485.7ZM502.4,485.4 L497.9,488.8 L488.5,488.2 L486.2,484.4 L490.7,481 L500.1,481.6ZM522.4,481.2 L517.9,484.6 L508.4,484 L506.1,480.2 L510.6,476.8 L520,477.4ZM542.2,477.1 L537.8,480.5 L528.4,479.9 L526,476.1 L530.5,472.7 L539.9,473.3ZM562.2,472.9 L557.7,476.3 L548.3,475.7 L546,471.9 L550.5,468.5 L559.9,469.1ZM582.1,468.8 L577.6,472.2 L568.2,471.6 L565.9,467.8 L570.4,464.4 L579.8,465ZM602,464.6 L597.5,468 L588.1,467.4 L585.8,463.6 L590.2,460.2 L599.6,460.8ZM621.9,460.5 L617.4,463.9 L608,463.3 L605.6,459.5 L610.1,456.1 L619.5,456.7ZM641.8,456.3 L637.2,459.7 L627.9,459.1 L625.5,455.3 L630,451.9 L639.4,452.5ZM661.7,452.2 L657.2,455.6 L647.8,455 L645.5,451.2 L650,447.8 L659.4,448.4Z" stroke-width="5.6" fill="none" stroke="#262626"/><path d="M349.6,436.8 L345.1,440.2 L335.7,439.6 L333.4,435.8 L337.9,432.4 L347.3,433ZM369.5,432.7 L365,436.1 L355.6,435.5 L353.3,431.7 L357.8,428.3 L367.2,428.9ZM389.4,428.5 L384.9,431.9 L375.5,431.3 L373.2,427.5 L377.7,424.1 L387.1,424.7ZM409.3,424.4 L404.8,427.8 L395.4,427.2 L393.1,423.4 L397.6,420 L407,420.6ZM429.2,420.2 L424.7,423.6 L415.3,423 L413,419.2 L417.5,415.8 L426.9,416.4ZM449.1,416.1 L444.6,419.4 L435.2,418.9 L432.9,415.1 L437.4,411.7 L446.8,412.2ZM469,411.9 L464.5,415.3 L455.1,414.7 L452.8,410.9 L457.3,407.5 L466.7,408.1ZM488.9,407.8 L484.4,411.1 L475,410.6 L472.7,406.8 L477.2,403.4 L486.6,403.9ZM508.8,403.6 L504.3,407 L494.9,406.4 L492.6,402.6 L497.1,399.2 L506.5,399.8ZM528.7,399.4 L524.2,402.8 L514.8,402.2 L512.5,398.4 L517,395.1 L526.4,395.6ZM548.6,395.3 L544.1,398.7 L534.7,398.1 L532.4,394.3 L536.9,390.9 L546.3,391.5ZM568.5,391.1 L564,394.5 L554.6,393.9 L552.3,390.1 L556.8,386.8 L566.2,387.3ZM588.4,387 L583.9,390.4 L574.5,389.8 L572.2,386 L576.7,382.6 L586.1,383.2ZM608.3,382.9 L603.8,386.2 L594.4,385.7 L592.1,381.9 L596.6,378.5 L606,379.1ZM365.8,444.9 L361.2,448.3 L351.8,447.7 L349.5,443.9 L354,440.5 L363.4,441.1ZM385.6,440.8 L381.1,444.2 L371.7,443.6 L369.4,439.8 L373.9,436.4 L383.3,437ZM405.6,436.6 L401.1,440 L391.6,439.4 L389.3,435.6 L393.8,432.2 L403.2,432.8ZM425.4,432.5 L420.9,435.9 L411.5,435.3 L409.2,431.5 L413.7,428.1 L423.1,428.7ZM445.4,428.3 L440.9,431.7 L431.4,431.1 L429.1,427.3 L433.6,423.9 L443.1,424.5ZM465.2,424.2 L460.8,427.6 L451.3,427 L449,423.2 L453.5,419.8 L462.9,420.4ZM485.1,420 L480.6,423.4 L471.2,422.8 L468.9,419 L473.4,415.6 L482.8,416.2ZM505,415.9 L500.5,419.3 L491.1,418.7 L488.8,414.9 L493.3,411.5 L502.7,412.1ZM525,411.7 L520.5,415.1 L511.1,414.5 L508.8,410.7 L513.2,407.3 L522.6,407.9ZM544.9,407.6 L540.4,411 L531,410.4 L528.7,406.6 L533.2,403.2 L542.6,403.8ZM564.8,403.4 L560.3,406.8 L550.9,406.2 L548.6,402.4 L553.1,399 L562.5,399.6ZM584.7,399.3 L580.2,402.7 L570.8,402.1 L568.5,398.3 L573,394.9 L582.4,395.5ZM604.6,395.1 L600.1,398.5 L590.7,397.9 L588.4,394.1 L592.9,390.7 L602.2,391.3ZM624.5,391 L620,394.4 L610.6,393.8 L608.3,390 L612.8,386.6 L622.2,387.2ZM362,457.2 L357.5,460.6 L348.1,460 L345.8,456.2 L350.3,452.8 L359.7,453.4ZM381.9,453.1 L377.4,456.4 L368,455.9 L365.7,452.1 L370.2,448.7 L379.6,449.2ZM401.8,448.9 L397.3,452.3 L387.9,451.7 L385.6,447.9 L390.1,444.5 L399.5,445.1ZM421.7,444.8 L417.2,448.1 L407.8,447.6 L405.5,443.8 L410,440.4 L419.4,440.9ZM441.6,440.6 L437.1,444 L427.7,443.4 L425.4,439.6 L429.9,436.2 L439.3,436.8ZM461.5,436.4 L457,439.8 L447.6,439.2 L445.3,435.4 L449.8,432.1 L459.2,432.6ZM481.4,432.3 L476.9,435.7 L467.5,435.1 L465.2,431.3 L469.7,427.9 L479.1,428.5ZM501.3,428.1 L496.8,431.5 L487.4,430.9 L485.1,427.1 L489.6,423.8 L499,424.3ZM521.2,424 L516.7,427.4 L507.3,426.8 L505,423 L509.5,419.6 L518.9,420.2ZM541.1,419.8 L536.6,423.2 L527.2,422.6 L524.9,418.8 L529.4,415.4 L538.8,416ZM561,415.7 L556.5,419.1 L547.1,418.5 L544.8,414.7 L549.3,411.3 L558.7,411.9ZM580.9,411.5 L576.4,414.9 L567,414.3 L564.7,410.5 L569.2,407.1 L578.6,407.7ZM600.8,407.4 L596.3,410.8 L586.9,410.2 L584.6,406.4 L589.1,403 L598.5,403.6ZM620.7,403.2 L616.2,406.6 L606.8,406.1 L604.5,402.2 L609,398.9 L618.4,399.4ZM378.2,465.3 L373.7,468.7 L364.2,468.1 L361.9,464.3 L366.4,460.9 L375.9,461.5ZM398.1,461.2 L393.6,464.6 L384.1,464 L381.8,460.2 L386.3,456.8 L395.8,457.4ZM418,457 L413.5,460.4 L404.1,459.8 L401.8,456 L406.2,452.6 L415.7,453.2ZM437.9,452.9 L433.4,456.3 L423.9,455.7 L421.6,451.9 L426.1,448.5 L435.6,449.1ZM457.8,448.7 L453.3,452.1 L443.9,451.5 L441.6,447.7 L446.1,444.3 L455.5,444.9ZM477.7,444.6 L473.2,448 L463.8,447.4 L461.4,443.6 L465.9,440.2 L475.4,440.8ZM497.6,440.4 L493.1,443.8 L483.6,443.2 L481.3,439.4 L485.8,436 L495.2,436.6ZM517.4,436.3 L512.9,439.7 L503.5,439.1 L501.2,435.3 L505.7,431.9 L515.1,432.5ZM537.4,432.1 L532.9,435.5 L523.5,434.9 L521.1,431.1 L525.6,427.7 L535,428.3ZM557.3,428 L552.8,431.4 L543.4,430.8 L541.1,427 L545.6,423.6 L555,424.2ZM577.2,423.8 L572.7,427.2 L563.3,426.6 L561,422.8 L565.5,419.4 L574.9,420ZM597.1,419.7 L592.6,423.1 L583.2,422.5 L580.9,418.7 L585.4,415.3 L594.8,415.9ZM617,415.5 L612.5,418.9 L603.1,418.3 L600.8,414.5 L605.2,411.1 L614.6,411.7ZM636.9,411.4 L632.4,414.8 L623,414.2 L620.7,410.4 L625.2,407 L634.6,407.6ZM374.4,477.6 L369.9,481 L360.5,480.4 L358.2,476.6 L362.7,473.2 L372.1,473.8ZM394.3,473.5 L389.8,476.9 L380.4,476.3 L378.1,472.5 L382.6,469.1 L392,469.7ZM414.2,469.3 L409.7,472.7 L400.3,472.1 L398,468.3 L402.5,464.9 L411.9,465.5ZM434.1,465.2 L429.6,468.6 L420.2,468 L417.9,464.2 L422.4,460.8 L431.8,461.4ZM454,461 L449.5,464.4 L440.1,463.8 L437.8,460 L442.3,456.6 L451.7,457.2ZM473.9,456.9 L469.4,460.2 L460,459.7 L457.7,455.9 L462.2,452.5 L471.6,453.1ZM493.8,452.7 L489.3,456.1 L479.9,455.5 L477.6,451.7 L482.1,448.3 L491.5,448.9ZM513.7,448.6 L509.2,451.9 L499.8,451.4 L497.5,447.6 L502,444.2 L511.4,444.8ZM533.6,444.4 L529.1,447.8 L519.7,447.2 L517.4,443.4 L521.9,440 L531.3,440.6ZM553.5,440.2 L549,443.6 L539.6,443.1 L537.3,439.2 L541.8,435.9 L551.2,436.4ZM573.4,436.1 L568.9,439.5 L559.5,438.9 L557.2,435.1 L561.7,431.7 L571.1,432.3ZM593.3,431.9 L588.8,435.3 L579.4,434.8 L577.1,430.9 L581.6,427.6 L591,428.1ZM613.2,427.8 L608.7,431.2 L599.3,430.6 L597,426.8 L601.5,423.4 L610.9,424ZM633.1,423.7 L628.6,427.1 L619.2,426.5 L616.9,422.7 L621.4,419.3 L630.8,419.9ZM390.6,485.7 L386.1,489.1 L376.6,488.5 L374.3,484.7 L378.8,481.3 L388.2,481.9ZM410.4,481.6 L405.9,485 L396.5,484.4 L394.2,480.6 L398.7,477.2 L408.1,477.8ZM430.4,477.4 L425.9,480.8 L416.4,480.2 L414.1,476.4 L418.6,473 L428.1,473.6ZM450.2,473.3 L445.8,476.7 L436.3,476.1 L434,472.3 L438.5,468.9 L447.9,469.5ZM470.2,469.1 L465.7,472.5 L456.2,471.9 L453.9,468.1 L458.4,464.7 L467.9,465.3ZM490.1,465 L485.6,468.4 L476.1,467.8 L473.8,464 L478.3,460.6 L487.8,461.2ZM509.9,460.8 L505.4,464.2 L496,463.6 L493.7,459.8 L498.2,456.4 L507.6,457ZM529.9,456.7 L525.4,460.1 L516,459.5 L513.6,455.7 L518.1,452.3 L527.5,452.9ZM549.8,452.5 L545.3,455.9 L535.9,455.3 L533.6,451.5 L538.1,448.1 L547.5,448.7ZM569.7,448.4 L565.2,451.8 L555.8,451.2 L553.5,447.4 L558,444 L567.4,444.6ZM589.6,444.2 L585.1,447.6 L575.7,447 L573.4,443.2 L577.9,439.8 L587.2,440.4ZM609.5,440.1 L605,443.5 L595.6,442.9 L593.2,439.1 L597.8,435.7 L607.1,436.3ZM629.4,435.9 L624.9,439.3 L615.5,438.7 L613.1,434.9 L617.6,431.5 L627,432.1ZM649.3,431.8 L644.8,435.2 L635.4,434.6 L633.1,430.8 L637.6,427.4 L647,428ZM386.8,498 L382.3,501.4 L372.9,500.8 L370.6,497 L375.1,493.6 L384.5,494.2ZM406.7,493.9 L402.2,497.2 L392.8,496.7 L390.5,492.9 L395,489.5 L404.4,490.1ZM426.6,489.7 L422.1,493.1 L412.7,492.5 L410.4,488.7 L414.9,485.3 L424.3,485.9ZM446.5,485.6 L442,488.9 L432.6,488.4 L430.3,484.6 L434.8,481.2 L444.2,481.8ZM466.4,481.4 L461.9,484.8 L452.5,484.2 L450.2,480.4 L454.7,477 L464.1,477.6ZM486.3,477.2 L481.8,480.6 L472.4,480.1 L470.1,476.2 L474.6,472.9 L484,473.4ZM506.2,473.1 L501.7,476.5 L492.3,475.9 L490,472.1 L494.5,468.7 L503.9,469.3ZM526.1,468.9 L521.6,472.3 L512.2,471.8 L509.9,467.9 L514.4,464.6 L523.8,465.1ZM546,464.8 L541.5,468.2 L532.1,467.6 L529.8,463.8 L534.3,460.4 L543.7,461ZM565.9,460.6 L561.4,464 L552,463.4 L549.7,459.6 L554.2,456.2 L563.6,456.8ZM585.8,456.5 L581.3,459.9 L571.9,459.3 L569.6,455.5 L574.1,452.1 L583.5,452.7ZM605.7,452.3 L601.2,455.7 L591.8,455.1 L589.5,451.3 L594,447.9 L603.4,448.5ZM625.6,448.2 L621.1,451.6 L611.7,451 L609.4,447.2 L613.9,443.8 L623.3,444.4ZM645.5,444.1 L641,447.4 L631.6,446.9 L629.3,443.1 L633.8,439.7 L643.2,440.2ZM402.9,506.1 L398.4,509.5 L389,508.9 L386.7,505.1 L391.2,501.7 L400.6,502.3ZM422.8,502 L418.3,505.4 L408.9,504.8 L406.6,501 L411.1,497.6 L420.5,498.2ZM442.8,497.8 L438.2,501.2 L428.8,500.6 L426.5,496.8 L431,493.4 L440.4,494ZM462.6,493.7 L458.1,497.1 L448.7,496.5 L446.4,492.7 L450.9,489.3 L460.3,489.9ZM482.6,489.5 L478.1,492.9 L468.6,492.3 L466.3,488.5 L470.8,485.1 L480.2,485.7ZM502.4,485.4 L497.9,488.8 L488.5,488.2 L486.2,484.4 L490.7,481 L500.1,481.6ZM522.4,481.2 L517.9,484.6 L508.4,484 L506.1,480.2 L510.6,476.8 L520,477.4ZM542.2,477.1 L537.8,480.5 L528.4,479.9 L526,476.1 L530.5,472.7 L539.9,473.3ZM562.2,472.9 L557.7,476.3 L548.3,475.7 L546,471.9 L550.5,468.5 L559.9,469.1ZM582.1,468.8 L577.6,472.2 L568.2,471.6 L565.9,467.8 L570.4,464.4 L579.8,465ZM602,464.6 L597.5,468 L588.1,467.4 L585.8,463.6 L590.2,460.2 L599.6,460.8ZM621.9,460.5 L617.4,463.9 L608,463.3 L605.6,459.5 L610.1,456.1 L619.5,456.7ZM641.8,456.3 L637.2,459.7 L627.9,459.1 L625.5,455.3 L630,451.9 L639.4,452.5ZM661.7,452.2 L657.2,455.6 L647.8,455 L645.5,451.2 L650,447.8 L659.4,448.4Z" fill="#fff" stroke="none"/>
<path d="M209,278 L534.6,210.6" stroke-width="2" fill="none"/>
<path d="M209,278 L291,404" stroke-width="2" fill="none"/>
<path d="M214,279 L295,403" stroke-width="1.2" fill="none"/>
<path d="M291,404 L613,338" stroke-width="2.2" fill="none"/>
<path d="M296,412 L616,345" stroke-width="1.4" fill="none"/>
<path d="M526,212 L526,200 Q527,196 532,197 L724,500 Q727,505 727,512 L727,612 Q727,619 720,620 L692,625" stroke-width="1.8" fill="none"/>
<path d="M534.6,210.6 L698,474" stroke-width="2.2" fill="none"/>
<path d="M527.6,198.8 L535,211" stroke-width="1.2" fill="none"/>
<path d="M291,404 L377,538" stroke-width="2" fill="none"/>
<path d="M295,405 L380,537" stroke-width="1.2" fill="none"/>
<path d="M377,538 L698,473" stroke-width="2" fill="none"/>
<path d="M380,544 L698,479" stroke-width="1.2" fill="none"/>
<path d="M376.5,537 L376.5,649" stroke-width="3.2" fill="none"/>
<path d="M698,473 L698,526" stroke-width="1.8" fill="none"/>
<path d="M209.5,278 L209.5,369" stroke-width="2" fill="none"/>
<path d="M209,366 Q202,367 202,374 L203,380" stroke-width="1.6" fill="none"/>
<path d="M203,380 L396,684" stroke-width="2.6" fill="none"/>
<path d="M290.5,404 L290.5,517" stroke-width="1.8" fill="none"/>
<path d="M294,406 L294,520" stroke-width="1.2" fill="none"/><path d="M312,455.4 L315,464.4 L315,473 L312,472.6 L309,463.6 L309,455ZM319,466.3 L322,475.3 L322,483.9 L319,483.5 L316,474.5 L316,465.9ZM326,477.2 L329,486.2 L329,494.8 L326,494.4 L323,485.4 L323,476.8ZM333,488.1 L336,497.1 L336,505.7 L333,505.3 L330,496.3 L330,487.7ZM315.5,478 L318.5,487 L318.5,495.6 L315.5,495.2 L312.5,486.3 L312.5,477.7ZM322.5,488.9 L325.5,497.9 L325.5,506.5 L322.5,506.1 L319.5,497.2 L319.5,488.6ZM329.5,499.8 L332.5,508.8 L332.5,517.4 L329.5,517 L326.5,508.1 L326.5,499.5ZM336.5,510.8 L339.5,519.7 L339.5,528.3 L336.5,528 L333.5,519 L333.5,510.4ZM343.5,521.7 L346.5,530.6 L346.5,539.2 L343.5,538.9 L340.5,529.9 L340.5,521.3ZM350.5,532.6 L353.5,541.5 L353.5,550.1 L350.5,549.8 L347.5,540.8 L347.5,532.2ZM357.5,543.5 L360.5,552.4 L360.5,561 L357.5,560.7 L354.5,551.7 L354.5,543.1ZM312,489.8 L315,498.8 L315,507.4 L312,507 L309,498 L309,489.4ZM319,500.7 L322,509.7 L322,518.3 L319,517.9 L316,508.9 L316,500.3ZM326,511.6 L329,520.6 L329,529.2 L326,528.8 L323,519.8 L323,511.2ZM333,522.5 L336,531.5 L336,540.1 L333,539.7 L330,530.7 L330,522.1ZM340,533.4 L343,542.4 L343,551 L340,550.6 L337,541.6 L337,533ZM347,544.3 L350,553.3 L350,561.9 L347,561.5 L344,552.5 L344,543.9ZM354,555.2 L357,564.2 L357,572.8 L354,572.4 L351,563.4 L351,554.8ZM308.5,501.6 L311.5,510.5 L311.5,519.1 L308.5,518.8 L305.5,509.8 L305.5,501.2ZM315.5,512.5 L318.5,521.4 L318.5,530 L315.5,529.7 L312.5,520.7 L312.5,512.1ZM322.5,523.4 L325.5,532.3 L325.5,540.9 L322.5,540.6 L319.5,531.6 L319.5,523ZM329.5,534.2 L332.5,543.2 L332.5,551.8 L329.5,551.5 L326.5,542.5 L326.5,533.9ZM336.5,545.1 L339.5,554.1 L339.5,562.7 L336.5,562.4 L333.5,553.4 L333.5,544.8ZM343.5,556.1 L346.5,565 L346.5,573.6 L343.5,573.3 L340.5,564.3 L340.5,555.7ZM350.5,567 L353.5,575.9 L353.5,584.5 L350.5,584.2 L347.5,575.2 L347.5,566.6ZM357.5,577.9 L360.5,586.8 L360.5,595.4 L357.5,595.1 L354.5,586.1 L354.5,577.5Z" fill="#3a3a3a" stroke="#222" stroke-width="2"/><path d="M312,457.8 L313,462.4 L313,468.6 L312,470.2 L311,465.6 L311,459.4ZM319,468.7 L320,473.3 L320,479.5 L319,481.1 L318,476.5 L318,470.3ZM326,479.6 L327,484.2 L327,490.4 L326,492 L325,487.4 L325,481.2ZM333,490.5 L334,495.1 L334,501.3 L333,502.9 L332,498.3 L332,492.1ZM315.5,480.5 L316.5,485.1 L316.5,491.2 L315.5,492.8 L314.5,488.2 L314.5,482.1ZM322.5,491.4 L323.5,496 L323.5,502.1 L322.5,503.7 L321.5,499.1 L321.5,493ZM329.5,502.3 L330.5,506.9 L330.5,513 L329.5,514.6 L328.5,510 L328.5,503.9ZM336.5,513.2 L337.5,517.8 L337.5,523.9 L336.5,525.5 L335.5,520.9 L335.5,514.8ZM343.5,524.1 L344.5,528.7 L344.5,534.8 L343.5,536.4 L342.5,531.8 L342.5,525.7ZM350.5,535 L351.5,539.6 L351.5,545.7 L350.5,547.3 L349.5,542.7 L349.5,536.6ZM357.5,545.9 L358.5,550.5 L358.5,556.6 L357.5,558.2 L356.5,553.6 L356.5,547.5ZM312,492.2 L313,496.8 L313,503 L312,504.6 L311,500 L311,493.8ZM319,503.1 L320,507.7 L320,513.9 L319,515.5 L318,510.9 L318,504.7ZM326,514 L327,518.6 L327,524.8 L326,526.4 L325,521.8 L325,515.6ZM333,524.9 L334,529.5 L334,535.7 L333,537.3 L332,532.7 L332,526.5ZM340,535.8 L341,540.4 L341,546.6 L340,548.2 L339,543.6 L339,537.4ZM347,546.7 L348,551.3 L348,557.5 L347,559.1 L346,554.5 L346,548.3ZM354,557.6 L355,562.2 L355,568.4 L354,570 L353,565.4 L353,559.2ZM308.5,504 L309.5,508.6 L309.5,514.7 L308.5,516.3 L307.5,511.7 L307.5,505.6ZM315.5,514.9 L316.5,519.5 L316.5,525.6 L315.5,527.2 L314.5,522.6 L314.5,516.5ZM322.5,525.8 L323.5,530.4 L323.5,536.5 L322.5,538.1 L321.5,533.5 L321.5,527.4ZM329.5,536.7 L330.5,541.3 L330.5,547.4 L329.5,549 L328.5,544.4 L328.5,538.3ZM336.5,547.6 L337.5,552.2 L337.5,558.3 L336.5,559.9 L335.5,555.3 L335.5,549.2ZM343.5,558.5 L344.5,563.1 L344.5,569.2 L343.5,570.8 L342.5,566.2 L342.5,560.1ZM350.5,569.4 L351.5,574 L351.5,580.1 L350.5,581.7 L349.5,577.1 L349.5,571ZM357.5,580.3 L358.5,584.9 L358.5,591 L357.5,592.6 L356.5,588 L356.5,581.9Z" fill="#fff" stroke="none"/><path d="M227,319.4 L230,328.4 L230,337 L227,336.6 L224,327.6 L224,319ZM234,330.3 L237,339.3 L237,347.9 L234,347.5 L231,338.5 L231,329.9ZM241,341.2 L244,350.2 L244,358.8 L241,358.4 L238,349.4 L238,340.8ZM248,352.1 L251,361.1 L251,369.7 L248,369.3 L245,360.3 L245,351.7ZM230.5,342 L233.5,351 L233.5,359.6 L230.5,359.2 L227.5,350.3 L227.5,341.7ZM237.5,352.9 L240.5,361.9 L240.5,370.5 L237.5,370.1 L234.5,361.2 L234.5,352.6ZM244.5,363.8 L247.5,372.8 L247.5,381.4 L244.5,381.1 L241.5,372.1 L241.5,363.5ZM251.5,374.7 L254.5,383.7 L254.5,392.3 L251.5,391.9 L248.5,383 L248.5,374.4ZM258.5,385.6 L261.5,394.6 L261.5,403.2 L258.5,402.9 L255.5,393.9 L255.5,385.3ZM265.5,396.5 L268.5,405.5 L268.5,414.1 L265.5,413.8 L262.5,404.8 L262.5,396.2ZM272.5,407.4 L275.5,416.4 L275.5,425 L272.5,424.6 L269.5,415.7 L269.5,407.1ZM227,353.8 L230,362.8 L230,371.4 L227,371 L224,362 L224,353.4ZM234,364.7 L237,373.7 L237,382.3 L234,381.9 L231,372.9 L231,364.3ZM241,375.6 L244,384.6 L244,393.2 L241,392.8 L238,383.8 L238,375.2ZM248,386.5 L251,395.5 L251,404.1 L248,403.7 L245,394.7 L245,386.1ZM255,397.4 L258,406.4 L258,415 L255,414.6 L252,405.6 L252,397ZM262,408.3 L265,417.3 L265,425.9 L262,425.5 L259,416.5 L259,407.9ZM269,419.2 L272,428.2 L272,436.8 L269,436.4 L266,427.4 L266,418.8ZM223.5,365.6 L226.5,374.5 L226.5,383.1 L223.5,382.8 L220.5,373.8 L220.5,365.2ZM230.5,376.4 L233.5,385.4 L233.5,394 L230.5,393.7 L227.5,384.7 L227.5,376.1ZM237.5,387.3 L240.5,396.3 L240.5,404.9 L237.5,404.6 L234.5,395.6 L234.5,387ZM244.5,398.2 L247.5,407.2 L247.5,415.8 L244.5,415.4 L241.5,406.5 L241.5,397.9ZM251.5,409.1 L254.5,418.1 L254.5,426.7 L251.5,426.3 L248.5,417.4 L248.5,408.8ZM258.5,420.1 L261.5,429 L261.5,437.6 L258.5,437.3 L255.5,428.3 L255.5,419.7ZM265.5,430.9 L268.5,439.9 L268.5,448.5 L265.5,448.2 L262.5,439.2 L262.5,430.6ZM272.5,441.8 L275.5,450.8 L275.5,459.4 L272.5,459.1 L269.5,450.1 L269.5,441.5Z" fill="#3a3a3a" stroke="#222" stroke-width="2"/><path d="M227,321.8 L228,326.4 L228,332.6 L227,334.2 L226,329.6 L226,323.4ZM234,332.7 L235,337.3 L235,343.5 L234,345.1 L233,340.5 L233,334.3ZM241,343.6 L242,348.2 L242,354.4 L241,356 L240,351.4 L240,345.2ZM248,354.5 L249,359.1 L249,365.3 L248,366.9 L247,362.3 L247,356.1ZM230.5,344.5 L231.5,349.1 L231.5,355.2 L230.5,356.8 L229.5,352.2 L229.5,346.1ZM237.5,355.4 L238.5,360 L238.5,366.1 L237.5,367.7 L236.5,363.1 L236.5,357ZM244.5,366.3 L245.5,370.9 L245.5,377 L244.5,378.6 L243.5,374 L243.5,367.9ZM251.5,377.2 L252.5,381.8 L252.5,387.9 L251.5,389.5 L250.5,384.9 L250.5,378.8ZM258.5,388.1 L259.5,392.7 L259.5,398.8 L258.5,400.4 L257.5,395.8 L257.5,389.7ZM265.5,399 L266.5,403.6 L266.5,409.7 L265.5,411.3 L264.5,406.7 L264.5,400.6ZM272.5,409.9 L273.5,414.5 L273.5,420.6 L272.5,422.2 L271.5,417.6 L271.5,411.5ZM227,356.2 L228,360.8 L228,367 L227,368.6 L226,364 L226,357.8ZM234,367.1 L235,371.7 L235,377.9 L234,379.5 L233,374.9 L233,368.7ZM241,378 L242,382.6 L242,388.8 L241,390.4 L240,385.8 L240,379.6ZM248,388.9 L249,393.5 L249,399.7 L248,401.3 L247,396.7 L247,390.5ZM255,399.8 L256,404.4 L256,410.6 L255,412.2 L254,407.6 L254,401.4ZM262,410.7 L263,415.3 L263,421.5 L262,423.1 L261,418.5 L261,412.3ZM269,421.6 L270,426.2 L270,432.4 L269,434 L268,429.4 L268,423.2ZM223.5,368 L224.5,372.6 L224.5,378.7 L223.5,380.3 L222.5,375.7 L222.5,369.6ZM230.5,378.9 L231.5,383.5 L231.5,389.6 L230.5,391.2 L229.5,386.6 L229.5,380.5ZM237.5,389.8 L238.5,394.4 L238.5,400.5 L237.5,402.1 L236.5,397.5 L236.5,391.4ZM244.5,400.7 L245.5,405.3 L245.5,411.4 L244.5,413 L243.5,408.4 L243.5,402.3ZM251.5,411.6 L252.5,416.2 L252.5,422.3 L251.5,423.9 L250.5,419.3 L250.5,413.2ZM258.5,422.5 L259.5,427.1 L259.5,433.2 L258.5,434.8 L257.5,430.2 L257.5,424.1ZM265.5,433.4 L266.5,438 L266.5,444.1 L265.5,445.7 L264.5,441.1 L264.5,435ZM272.5,444.3 L273.5,448.9 L273.5,455 L272.5,456.6 L271.5,452 L271.5,445.9Z" fill="#fff" stroke="none"/><path d="M415,530 L403,515 L540,486 L552,506 L688,480" stroke-width="1.2" fill="none"/>
<path d="M415,527 L421,514 L428,525 Z" stroke-width="1.6" fill="none"/>
<text x="0" y="0" transform="matrix(1,-0.205,0,1,431,523)" font-family="Liberation Sans" font-weight="bold" font-size="9.5" fill="#1e1e1e" stroke-width="0.6" letter-spacing="0.3">DELTA</text>
<path d="M424,529 L540,505" stroke-width="2.6" fill="none"/>
<path d="M413,536 L688,480" stroke-width="1.3" fill="none"/>
<path d="M413,536 L414,568 L640,522" stroke-width="1.3" fill="none"/>
<path d="M650,521 L650,536.7 L695,529" stroke-width="1.4" fill="none"/>
<path d="M420,540 L504,523 L504,544 L420,561 Z" stroke-width="2.6" fill="none"/>
<path d="M511,519 L639,494 L640,514 L512,542 Z" stroke-width="2.6" fill="none"/>
<path d="M646,491 L683,484 L683,505 L647,513 Z" stroke-width="2.6" fill="none"/>
<text transform="matrix(1,-0.205,0,1,514,536)" font-family="Liberation Sans" font-weight="bold" font-size="15" fill="#1e1e1e" stroke-width="0.7">-V</text>
<text transform="matrix(1,-0.205,0,1,546,529.5)" font-family="Liberation Sans" font-weight="bold" font-size="15" fill="#1e1e1e" stroke-width="0.7">-V</text>
<text transform="matrix(1,-0.205,0,1,577,523)" font-family="Liberation Sans" font-weight="bold" font-size="15" fill="#1e1e1e" stroke-width="0.7">+V</text>
<text transform="matrix(1,-0.205,0,1,611,516)" font-family="Liberation Sans" font-weight="bold" font-size="15" fill="#1e1e1e" stroke-width="0.7">+V</text>
<text transform="matrix(1,-0.205,0,1,656,505)" font-family="Liberation Sans" font-weight="bold" font-size="14" fill="#1e1e1e" stroke-width="0.7">V</text>
<text transform="matrix(1,-0.205,0,1,666,504)" font-family="Liberation Sans" font-weight="bold" font-size="6" fill="#1e1e1e" stroke-width="0.7">adj</text>
<text transform="matrix(1,-0.205,0,1,422,557)" font-family="Liberation Sans" font-weight="bold" font-size="13" fill="#1e1e1e" stroke-width="0.7">L</text>
<text transform="matrix(1,-0.205,0,1,454,547)" font-family="Liberation Sans" font-weight="bold" font-size="10" fill="#1e1e1e" stroke-width="0.7">N</text>
<ellipse cx="492" cy="535.5" rx="9" ry="8" fill="#1e1e1e" stroke="none"/>
<path d="M492,528.5 L492,535.5 M484.5,537 L499.5,534" stroke="#fff" stroke-width="1.3"/>
<path d="M377,577 L650,521.5" stroke-width="1.4" fill="none"/>
<path d="M378,580 L394,577 Q396,577 396,579 L396,619 Q396,621 394,621 L378,624" stroke-width="1.4" fill="none"/><path d="M396,653 L396,684 L692,625" stroke-width="2.2" fill="none"/>
<path d="M398,677 L692,618" stroke-width="1.2" fill="none"/>
<path d="M396,653 Q392,646 399,641 L409,639 Q416,638 416,645 L416,660.5 L672,607.1 L672,589" stroke-width="1.6" fill="none"/>
<path d="M376,648 L396,684" stroke-width="1.6" fill="none"/>
<path d="M378,650 L398,680" stroke-width="1.0" fill="none"/>
<path d="M692,607 L692,625" stroke-width="1.5" fill="none"/>
<path d="M698,526 L704,534" stroke-width="1.2" fill="none"/>
<ellipse cx="704.5" cy="607.5" rx="4.5" ry="3" stroke-width="1.3" fill="none"/>
<ellipse cx="711.5" cy="521.5" rx="2.2" ry="5" stroke-width="1.3" fill="none"/>
<ellipse cx="704" cy="535" rx="5" ry="8" stroke-width="1.8" fill="#fff"/>
<ellipse cx="702.5" cy="536" rx="2" ry="4" stroke-width="1.2" fill="none"/>
<path d="M720,512 L720,614" stroke-width="1.3" fill="none"/>
<path d="M660,563 L660,578 Q666,583 673,578 L673,563" stroke-width="1.6" fill="#fff"/>
<ellipse cx="665.6" cy="559.7" rx="8.3" ry="5.8" stroke-width="1.8" fill="#fff"/>
<ellipse cx="665" cy="559" rx="4.5" ry="2.2" stroke-width="1.3" fill="none"/>
<path d="M662,574 L672,572" stroke-width="2.4" fill="none"/>
<path d="M674,551 L674,567 Q680,571 686,567 L686,551" stroke-width="1.6" fill="#fff"/>
<circle cx="679.7" cy="548.2" r="5.8" stroke-width="1.6" fill="#fff"/>
<path d="M678.5,579 L711.8,571.3 L711.8,580 L680,587.5" stroke-width="1.5" fill="none"/>
<path d="M687.4,531.5 L711.8,568.7" stroke-width="1.3" fill="none"/>
<path d="M699,555 Q703,551 707,556 L711.8,566 L711.8,571.3 L703,567 Z" stroke-width="1.3" fill="#fff"/>
<path d="M672,588 L672,596 L690,592 L690,624" stroke-width="1.5" fill="none"/>
<path d="M659.2,588 L672,588" stroke-width="1.3" fill="none"/></g><clipPath id="cRT"><rect x="944" y="87.5" width="505.5" height="326"/></clipPath><clipPath id="cRB"><rect x="944" y="455" width="505.5" height="353.5"/></clipPath></defs><use href="#common"/><path d="M405.3,573 L405.3,618 L421,644" stroke-width="1.6" fill="none"/>
<path d="M405.3,573 L413.8,576.9" stroke-width="1.4" fill="none"/>
<path d="M413.8,576.9 L440.5,572 L441.6,572 L441.6,599.8" stroke-width="1.6" fill="none"/>
<path d="M413.8,576.9 L427.7,604.1 Q429.8,606.4 429.8,609.9 L429.8,632.9" stroke-width="1.6" fill="none"/>
<ellipse cx="440.9" cy="606.5" rx="10" ry="7" stroke-width="1.6" fill="#fff"/>
<ellipse cx="438.9" cy="601.5" rx="9.6" ry="5.6" stroke-width="1.2" fill="#2a2a2a"/>
<path d="M435.4,602 L442.4,600.5 M438.4,598 L439.4,605" stroke="#888" stroke-width="0.9"/>
<path d="M432.8,614.9 L456.3,609.9 L456.3,628.9 L432.8,633.9 Z" stroke-width="1.6" fill="none"/>
<path d="M434.8,620.9 L454.8,616.9" stroke-width="2.2" fill="none"/>
<path d="M434.8,626.9 L454.8,622.9" stroke-width="1.2" fill="none"/>
<path d="M431.8,650.4 L431.8,646.4 L459.3,640.9 L459.3,644.9" stroke-width="1.3" fill="none"/>
<path d="M432.8,649.4 L458.8,644.1" stroke-width="1.0" fill="none"/>
<path d="M446.6,570.4 L473.3,565.5 L474.4,565.5 L474.4,593.3" stroke-width="1.6" fill="none"/>
<path d="M446.6,570.4 L460.5,597.6 Q462.6,599.9 462.6,603.4 L462.6,626.4" stroke-width="1.6" fill="none"/>
<ellipse cx="473.7" cy="600" rx="10" ry="7" stroke-width="1.6" fill="#fff"/>
<ellipse cx="471.7" cy="595" rx="9.6" ry="5.6" stroke-width="1.2" fill="#2a2a2a"/>
<path d="M468.2,595.5 L475.2,594 M471.2,591.5 L472.2,598.5" stroke="#888" stroke-width="0.9"/>
<path d="M465.6,608.4 L489.1,603.4 L489.1,622.4 L465.6,627.4 Z" stroke-width="1.6" fill="none"/>
<path d="M467.6,614.4 L487.6,610.4" stroke-width="2.2" fill="none"/>
<path d="M467.6,620.4 L487.6,616.4" stroke-width="1.2" fill="none"/>
<path d="M464.6,643.9 L464.6,639.9 L492.1,634.4 L492.1,638.4" stroke-width="1.3" fill="none"/>
<path d="M465.6,642.9 L491.6,637.6" stroke-width="1.0" fill="none"/>
<path d="M479.4,564 L506.1,559.1 L507.2,559.1 L507.2,586.9" stroke-width="1.6" fill="none"/>
<path d="M479.4,564 L493.3,591.2 Q495.4,593.5 495.4,597 L495.4,620" stroke-width="1.6" fill="none"/>
<ellipse cx="506.5" cy="593.6" rx="10" ry="7" stroke-width="1.6" fill="#fff"/>
<ellipse cx="504.5" cy="588.6" rx="9.6" ry="5.6" stroke-width="1.2" fill="#2a2a2a"/>
<path d="M501,589.1 L508,587.6 M504,585.1 L505,592.1" stroke="#888" stroke-width="0.9"/>
<path d="M498.4,602 L521.9,597 L521.9,616 L498.4,621 Z" stroke-width="1.6" fill="none"/>
<path d="M500.4,608 L520.4,604" stroke-width="2.2" fill="none"/>
<path d="M500.4,614 L520.4,610" stroke-width="1.2" fill="none"/>
<path d="M497.4,637.5 L497.4,633.5 L524.9,628 L524.9,632" stroke-width="1.3" fill="none"/>
<path d="M498.4,636.5 L524.4,631.2" stroke-width="1.0" fill="none"/>
<path d="M512.2,557.5 L538.9,552.6 L540,552.6 L540,580.4" stroke-width="1.6" fill="none"/>
<path d="M512.2,557.5 L526.1,584.8 Q528.2,587 528.2,590.5 L528.2,613.5" stroke-width="1.6" fill="none"/>
<ellipse cx="539.3" cy="587.1" rx="10" ry="7" stroke-width="1.6" fill="#fff"/>
<ellipse cx="537.3" cy="582.1" rx="9.6" ry="5.6" stroke-width="1.2" fill="#2a2a2a"/>
<path d="M533.8,582.6 L540.8,581.1 M536.8,578.6 L537.8,585.6" stroke="#888" stroke-width="0.9"/>
<path d="M531.2,595.5 L554.7,590.5 L554.7,609.5 L531.2,614.5 Z" stroke-width="1.6" fill="none"/>
<path d="M533.2,601.5 L553.2,597.5" stroke-width="2.2" fill="none"/>
<path d="M533.2,607.5 L553.2,603.5" stroke-width="1.2" fill="none"/>
<path d="M530.2,631 L530.2,627 L557.7,621.5 L557.7,625.5" stroke-width="1.3" fill="none"/>
<path d="M531.2,630 L557.2,624.8" stroke-width="1.0" fill="none"/>
<path d="M545,551.1 L571.7,546.2 L572.8,546.2 L572.8,574" stroke-width="1.6" fill="none"/>
<path d="M545,551.1 L558.9,578.3 Q561,580.6 561,584.1 L561,607.1" stroke-width="1.6" fill="none"/>
<ellipse cx="572.1" cy="580.7" rx="10" ry="7" stroke-width="1.6" fill="#fff"/>
<ellipse cx="570.1" cy="575.7" rx="9.6" ry="5.6" stroke-width="1.2" fill="#2a2a2a"/>
<path d="M566.6,576.2 L573.6,574.7 M569.6,572.2 L570.6,579.2" stroke="#888" stroke-width="0.9"/>
<path d="M564,589.1 L587.5,584.1 L587.5,603.1 L564,608.1 Z" stroke-width="1.6" fill="none"/>
<path d="M566,595.1 L586,591.1" stroke-width="2.2" fill="none"/>
<path d="M566,601.1 L586,597.1" stroke-width="1.2" fill="none"/>
<path d="M563,624.6 L563,620.6 L590.5,615.1 L590.5,619.1" stroke-width="1.3" fill="none"/>
<path d="M564,623.6 L590,618.3" stroke-width="1.0" fill="none"/>
<path d="M577.8,544.6 L604.5,539.8 L605.6,539.8 L605.6,567.5" stroke-width="1.6" fill="none"/>
<path d="M577.8,544.6 L591.7,571.9 Q593.8,574.1 593.8,577.6 L593.8,600.6" stroke-width="1.6" fill="none"/>
<ellipse cx="604.9" cy="574.2" rx="10" ry="7" stroke-width="1.6" fill="#fff"/>
<ellipse cx="602.9" cy="569.2" rx="9.6" ry="5.6" stroke-width="1.2" fill="#2a2a2a"/>
<path d="M599.4,569.8 L606.4,568.2 M602.4,565.8 L603.4,572.8" stroke="#888" stroke-width="0.9"/>
<path d="M596.8,582.6 L620.3,577.6 L620.3,596.6 L596.8,601.6 Z" stroke-width="1.6" fill="none"/>
<path d="M598.8,588.6 L618.8,584.6" stroke-width="2.2" fill="none"/>
<path d="M598.8,594.6 L618.8,590.6" stroke-width="1.2" fill="none"/>
<path d="M595.8,618.1 L595.8,614.1 L623.3,608.6 L623.3,612.6" stroke-width="1.3" fill="none"/>
<path d="M596.8,617.1 L622.8,611.9" stroke-width="1.0" fill="none"/>
<path d="M610.6,538.2 L637.3,533.3 L638.4,533.3 L638.4,561.1" stroke-width="1.6" fill="none"/>
<path d="M610.6,538.2 L624.5,565.4 Q626.6,567.7 626.6,571.2 L626.6,594.2" stroke-width="1.6" fill="none"/>
<ellipse cx="637.7" cy="567.8" rx="10" ry="7" stroke-width="1.6" fill="#fff"/>
<ellipse cx="635.7" cy="562.8" rx="9.6" ry="5.6" stroke-width="1.2" fill="#2a2a2a"/>
<path d="M632.2,563.3 L639.2,561.8 M635.2,559.3 L636.2,566.3" stroke="#888" stroke-width="0.9"/>
<path d="M629.6,576.2 L653.1,571.2 L653.1,590.2 L629.6,595.2 Z" stroke-width="1.6" fill="none"/>
<path d="M631.6,582.2 L651.6,578.2" stroke-width="2.2" fill="none"/>
<path d="M631.6,588.2 L651.6,584.2" stroke-width="1.2" fill="none"/>
<path d="M628.6,611.7 L628.6,607.7 L656.1,602.2 L656.1,606.2" stroke-width="1.3" fill="none"/>
<path d="M629.6,610.7 L655.6,605.4" stroke-width="1.0" fill="none"/>
<path d="M421,644 L421,652" stroke-width="1.6" fill="none"/>
<path d="M640,527.7 L655,553 Q659.2,556 659.2,560 L659.2,604.6" stroke-width="1.8" fill="none"/><text x="79.5" y="181.8" font-family="Liberation Sans" font-size="29.6" fill="#1e1e1e" stroke="none">Ventilated surface</text>
<path d="M77.7,189.5 L316.8,189.5" stroke-width="2.2" fill="none"/>
<path d="M316.8,189.5 L360,252.4" stroke-width="1.6" fill="none"/><path d="M371.9,269.7 L357,254.5 L363.1,250.3 Z" fill="#1e1e1e" stroke-width="0.8"/>
<text x="645.5" y="133.6" font-family="Liberation Sans" font-size="30.0" fill="#1e1e1e" stroke="none">Side surface</text>
<path d="M811.5,141.6 L642.3,141.6" stroke-width="2.2" fill="none"/>
<path d="M642.3,141.6 L579.3,229" stroke-width="1.6" fill="none"/><path d="M567,246 L576.3,226.8 L582.3,231.1 Z" fill="#1e1e1e" stroke-width="0.8"/>
<text x="746.3" y="359.8" font-family="Liberation Sans" font-size="30.0" fill="#1e1e1e" stroke="none">Top surface</text>
<path d="M898.6,367.2 L741.1,367.2" stroke-width="2.2" fill="none"/>
<path d="M741.1,367.2 L672.6,453.4" stroke-width="1.6" fill="none"/><path d="M659.5,469.8 L669.7,451.1 L675.5,455.7 Z" fill="#1e1e1e" stroke-width="0.8"/>
<text x="67" y="640.8" font-family="Liberation Sans" font-size="30.0" fill="#1e1e1e" stroke="none">Base surface</text>
<path d="M66.4,648.4 L246.1,648.4" stroke-width="2.2" fill="none"/>
<path d="M246.1,648.4 L304,578.9" stroke-width="1.6" fill="none"/><path d="M317.4,562.8 L306.8,581.3 L301.1,576.6 Z" fill="#1e1e1e" stroke-width="0.8"/>
<path d="M510.8,736.4 L492,656.4" stroke-width="1.6" fill="none"/><path d="M487,635 L494.9,655.7 L489.1,657.1 Z" fill="#1e1e1e" stroke-width="0.8"/>
<path d="M723.4,658.8 L686.9,590.6" stroke-width="1.6" fill="none"/><path d="M677.5,573 L689.6,589.2 L684.3,592.1 Z" fill="#1e1e1e" stroke-width="0.8"/>
<path d="M773.8,620.4 L705.4,568.1" stroke-width="1.6" fill="none"/><path d="M689.5,556 L707.2,565.8 L703.6,570.5 Z" fill="#1e1e1e" stroke-width="0.8"/>
<circle cx="517.4" cy="761" r="24.6" stroke-width="1.5" fill="#fff"/><text x="517.4" y="772" font-family="Liberation Sans" font-size="30.5" fill="#1e1e1e" stroke="none" text-anchor="middle">1</text>
<circle cx="732.4" cy="682.6" r="24.7" stroke-width="1.5" fill="#fff"/><text x="732.4" y="693.6" font-family="Liberation Sans" font-size="30.5" fill="#1e1e1e" stroke="none" text-anchor="middle">2</text>
<circle cx="793" cy="638.4" r="24.5" stroke-width="1.5" fill="#fff"/><text x="793" y="649.4" font-family="Liberation Sans" font-size="30.5" fill="#1e1e1e" stroke="none" text-anchor="middle">3</text>
<g clip-path="url(#cRT)"><g transform="matrix(0.8122,0,0.0017,0.8147,767.8,-270.45)"><use href="#common"/><path d="M411.1,573.3 L645.1,524.9 L657.1,549.7 L657.1,604.8 L432.3,652.1 L411.1,640 Z" stroke-width="1.6" fill="#fff"/>
<path d="M429.1,596.9 L657.1,549.7" stroke-width="1.6" fill="none"/>
<path d="M411.1,573.3 L429.1,596.9 Q432.3,600 432.3,606 L432.3,652.1" stroke-width="1.6" fill="none"/>
<ellipse cx="437" cy="581.7" rx="12.5" ry="6.8" stroke-width="1.6" fill="#fff"/>
<path d="M429,586.7 Q437,580.7 445,585.7" stroke-width="1.2" fill="none"/>
<path d="M433.5,610 L458.5,605 L458.5,646 L433.5,651 Z" stroke-width="1.5" fill="none"/>
<path d="M434.5,610.5 L457.5,606 L457.5,616 L434.5,620.5 Z" stroke-width="1.2" fill="#3a3a3a"/>
<path d="M436.5,614.5 L455.5,610.8" stroke-width="1.0" fill="none" stroke="#fff"/>
<path d="M434.5,624 L457.5,619.5" stroke-width="1.4" fill="none"/>
<path d="M461.5,604.5 L461.5,646" stroke-width="2.6" fill="none"/>
<ellipse cx="469.3" cy="574.8" rx="12.5" ry="6.8" stroke-width="1.6" fill="#fff"/>
<path d="M461.3,579.8 Q469.3,573.8 477.3,578.8" stroke-width="1.2" fill="none"/>
<path d="M465.8,603.1 L490.8,598.1 L490.8,639.1 L465.8,644.1 Z" stroke-width="1.5" fill="none"/>
<path d="M466.8,603.6 L489.8,599.1 L489.8,609.1 L466.8,613.6 Z" stroke-width="1.2" fill="#3a3a3a"/>
<path d="M468.8,607.6 L487.8,603.9" stroke-width="1.0" fill="none" stroke="#fff"/>
<path d="M466.8,617.1 L489.8,612.6" stroke-width="1.4" fill="none"/>
<path d="M493.8,597.6 L493.8,639.1" stroke-width="2.6" fill="none"/>
<ellipse cx="501.6" cy="567.9" rx="12.5" ry="6.8" stroke-width="1.6" fill="#fff"/>
<path d="M493.6,572.9 Q501.6,566.9 509.6,571.9" stroke-width="1.2" fill="none"/>
<path d="M498.1,596.2 L523.1,591.2 L523.1,632.2 L498.1,637.2 Z" stroke-width="1.5" fill="none"/>
<path d="M499.1,596.7 L522.1,592.2 L522.1,602.2 L499.1,606.7 Z" stroke-width="1.2" fill="#3a3a3a"/>
<path d="M501.1,600.7 L520.1,597" stroke-width="1.0" fill="none" stroke="#fff"/>
<path d="M499.1,610.2 L522.1,605.7" stroke-width="1.4" fill="none"/>
<path d="M526.1,590.7 L526.1,632.2" stroke-width="2.6" fill="none"/>
<ellipse cx="533.9" cy="561" rx="12.5" ry="6.8" stroke-width="1.6" fill="#fff"/>
<path d="M525.9,566 Q533.9,560 541.9,565" stroke-width="1.2" fill="none"/>
<path d="M530.4,589.3 L555.4,584.3 L555.4,625.3 L530.4,630.3 Z" stroke-width="1.5" fill="none"/>
<path d="M531.4,589.8 L554.4,585.3 L554.4,595.3 L531.4,599.8 Z" stroke-width="1.2" fill="#3a3a3a"/>
<path d="M533.4,593.8 L552.4,590.1" stroke-width="1.0" fill="none" stroke="#fff"/>
<path d="M531.4,603.3 L554.4,598.8" stroke-width="1.4" fill="none"/>
<path d="M558.4,583.8 L558.4,625.3" stroke-width="2.6" fill="none"/>
<ellipse cx="566.2" cy="554.1" rx="12.5" ry="6.8" stroke-width="1.6" fill="#fff"/>
<path d="M558.2,559.1 Q566.2,553.1 574.2,558.1" stroke-width="1.2" fill="none"/>
<path d="M562.7,582.4 L587.7,577.4 L587.7,618.4 L562.7,623.4 Z" stroke-width="1.5" fill="none"/>
<path d="M563.7,582.9 L586.7,578.4 L586.7,588.4 L563.7,592.9 Z" stroke-width="1.2" fill="#3a3a3a"/>
<path d="M565.7,586.9 L584.7,583.2" stroke-width="1.0" fill="none" stroke="#fff"/>
<path d="M563.7,596.4 L586.7,591.9" stroke-width="1.4" fill="none"/>
<path d="M590.7,576.9 L590.7,618.4" stroke-width="2.6" fill="none"/>
<ellipse cx="598.5" cy="547.2" rx="12.5" ry="6.8" stroke-width="1.6" fill="#fff"/>
<path d="M590.5,552.2 Q598.5,546.2 606.5,551.2" stroke-width="1.2" fill="none"/>
<path d="M595,575.5 L620,570.5 L620,611.5 L595,616.5 Z" stroke-width="1.5" fill="none"/>
<path d="M596,576 L619,571.5 L619,581.5 L596,586 Z" stroke-width="1.2" fill="#3a3a3a"/>
<path d="M598,580 L617,576.3" stroke-width="1.0" fill="none" stroke="#fff"/>
<path d="M596,589.5 L619,585" stroke-width="1.4" fill="none"/>
<path d="M623,570 L623,611.5" stroke-width="2.6" fill="none"/>
<ellipse cx="630.8" cy="540.3" rx="12.5" ry="6.8" stroke-width="1.6" fill="#fff"/>
<path d="M622.8,545.3 Q630.8,539.3 638.8,544.3" stroke-width="1.2" fill="none"/>
<path d="M627.3,568.6 L652.3,563.6 L652.3,604.6 L627.3,609.6 Z" stroke-width="1.5" fill="none"/>
<path d="M628.3,569.1 L651.3,564.6 L651.3,574.6 L628.3,579.1 Z" stroke-width="1.2" fill="#3a3a3a"/>
<path d="M630.3,573.1 L649.3,569.4" stroke-width="1.0" fill="none" stroke="#fff"/>
<path d="M628.3,582.6 L651.3,578.1" stroke-width="1.4" fill="none"/>
<path d="M655.3,563.1 L655.3,604.6" stroke-width="2.6" fill="none"/>
<path d="M432,652 L662,605" stroke-width="1.5" fill="none"/></g></g><path d="M1184.2,329.6 L1167.9,262.7" stroke-width="1.3" fill="none"/><path d="M1163.9,246.2 L1170.4,262.1 L1165.4,263.3 Z" fill="#1e1e1e" stroke-width="0.8"/>
<path d="M1357.3,266.5 L1328.6,210.1" stroke-width="1.3" fill="none"/><path d="M1320.9,195 L1330.9,209 L1326.3,211.3 Z" fill="#1e1e1e" stroke-width="0.8"/>
<path d="M1397.9,236.6 L1344.7,192.9" stroke-width="1.3" fill="none"/><path d="M1331.6,182.1 L1346.4,190.9 L1343.1,194.9 Z" fill="#1e1e1e" stroke-width="0.8"/>
<circle cx="1189.3" cy="349.2" r="20.2" stroke-width="1.3" fill="#fff"/><text x="1189.3" y="357.5" font-family="Liberation Sans" font-size="23" fill="#1e1e1e" stroke="none" text-anchor="middle">1</text>
<circle cx="1364" cy="285.8" r="20.2" stroke-width="1.3" fill="#fff"/><text x="1364" y="294.1" font-family="Liberation Sans" font-size="23" fill="#1e1e1e" stroke="none" text-anchor="middle">2</text>
<circle cx="1413" cy="249.4" r="20.2" stroke-width="1.3" fill="#fff"/><text x="1413" y="257.7" font-family="Liberation Sans" font-size="23" fill="#1e1e1e" stroke="none" text-anchor="middle">3</text><g clip-path="url(#cRB)"><g transform="matrix(0.8294,-0.00075,0.0034,0.821,755.2,95.1)"><use href="#common"/><path d="M417.2,600.4 L654.6,549.7 L677.7,577 L677.7,623.8 L440.3,676.5 L417.2,639.3 Z" stroke-width="1.6" fill="#fff"/>
<path d="M417.2,600.4 L437.4,627.6 L677.7,577" stroke-width="1.6" fill="none"/>
<path d="M437.4,627.6 L440.3,630.5 L440.3,676.5" stroke-width="1.6" fill="none"/>
<path d="M440.3,631.5 L677.7,583" stroke-width="1.3" fill="none"/>
<path d="M443,638 L677.7,590" stroke-width="1.2" fill="none"/>
<path d="M425,612 L425,650 L440.3,676.5" stroke-width="1.3" fill="none"/>
<path d="M431.6,609.2 L456.6,604.2 L463.6,618.2 L438.6,623.2 Z" stroke-width="1.5" fill="none"/>
<path d="M434.6,615.7 L459.6,610.7" stroke-width="1.0" fill="none"/>
<path d="M458.6,604.2 L466.1,619.2" stroke-width="1.3" fill="none"/>
<path d="M461.6,603.7 L469.1,618.7" stroke-width="1.3" fill="none"/>
<path d="M464.2,602.4 L489.2,597.4 L496.2,611.4 L471.2,616.4 Z" stroke-width="1.5" fill="none"/>
<path d="M467.2,608.9 L492.2,603.9" stroke-width="1.0" fill="none"/>
<path d="M491.2,597.4 L498.7,612.4" stroke-width="1.3" fill="none"/>
<path d="M494.2,596.9 L501.7,611.9" stroke-width="1.3" fill="none"/>
<path d="M496.8,595.5 L521.8,590.5 L528.8,604.5 L503.8,609.5 Z" stroke-width="1.5" fill="none"/>
<path d="M499.8,602 L524.8,597" stroke-width="1.0" fill="none"/>
<path d="M523.8,590.5 L531.3,605.5" stroke-width="1.3" fill="none"/>
<path d="M526.8,590 L534.3,605" stroke-width="1.3" fill="none"/>
<path d="M529.4,588.7 L554.4,583.7 L561.4,597.7 L536.4,602.7 Z" stroke-width="1.5" fill="none"/>
<path d="M532.4,595.2 L557.4,590.2" stroke-width="1.0" fill="none"/>
<path d="M556.4,583.7 L563.9,598.7" stroke-width="1.3" fill="none"/>
<path d="M559.4,583.2 L566.9,598.2" stroke-width="1.3" fill="none"/>
<path d="M562,581.8 L587,576.8 L594,590.8 L569,595.8 Z" stroke-width="1.5" fill="none"/>
<path d="M565,588.3 L590,583.3" stroke-width="1.0" fill="none"/>
<path d="M589,576.8 L596.5,591.8" stroke-width="1.3" fill="none"/>
<path d="M592,576.3 L599.5,591.3" stroke-width="1.3" fill="none"/>
<path d="M594.6,575 L619.6,570 L626.6,584 L601.6,589 Z" stroke-width="1.5" fill="none"/>
<path d="M597.6,581.5 L622.6,576.5" stroke-width="1.0" fill="none"/>
<path d="M621.6,570 L629.1,585" stroke-width="1.3" fill="none"/>
<path d="M624.6,569.5 L632.1,584.5" stroke-width="1.3" fill="none"/>
<path d="M627.2,568.1 L652.2,563.1 L659.2,577.1 L634.2,582.1 Z" stroke-width="1.5" fill="none"/>
<path d="M630.2,574.6 L655.2,569.6" stroke-width="1.0" fill="none"/>
<path d="M654.2,563.1 L661.7,578.1" stroke-width="1.3" fill="none"/>
<path d="M657.2,562.6 L664.7,577.6" stroke-width="1.3" fill="none"/>
<ellipse cx="482.7" cy="574" rx="12" ry="9" stroke-width="2.2" fill="#333"/>
<ellipse cx="482.7" cy="569" rx="11" ry="8" stroke-width="1.6" fill="#fff"/>
<path d="M476,566 L489,572 M486,564 L479,574" stroke-width="1.4"/></g></g><path d="M1181,702.1 L1163.7,632.7" stroke-width="1.3" fill="none"/><path d="M1159.6,616.2 L1166.2,632.1 L1161.2,633.3 Z" fill="#1e1e1e" stroke-width="0.8"/>
<path d="M1357.3,637.6 L1326.8,580" stroke-width="1.3" fill="none"/><path d="M1318.8,565 L1329.1,578.8 L1324.5,581.2 Z" fill="#1e1e1e" stroke-width="0.8"/>
<path d="M1398.9,607.3 L1344.7,562.9" stroke-width="1.3" fill="none"/><path d="M1331.6,552.1 L1346.4,560.9 L1343.1,564.9 Z" fill="#1e1e1e" stroke-width="0.8"/>
<circle cx="1186" cy="722.4" r="20.2" stroke-width="1.3" fill="#fff"/><text x="1186" y="730.7" font-family="Liberation Sans" font-size="23" fill="#1e1e1e" stroke="none" text-anchor="middle">1</text>
<circle cx="1364.7" cy="657.2" r="20.2" stroke-width="1.3" fill="#fff"/><text x="1364.7" y="665.5" font-family="Liberation Sans" font-size="23" fill="#1e1e1e" stroke="none" text-anchor="middle">2</text>
<circle cx="1414.6" cy="620.2" r="20.2" stroke-width="1.3" fill="#fff"/><text x="1414.6" y="628.5" font-family="Liberation Sans" font-size="23" fill="#1e1e1e" stroke="none" text-anchor="middle">3</text>
</svg>
</body></html>
